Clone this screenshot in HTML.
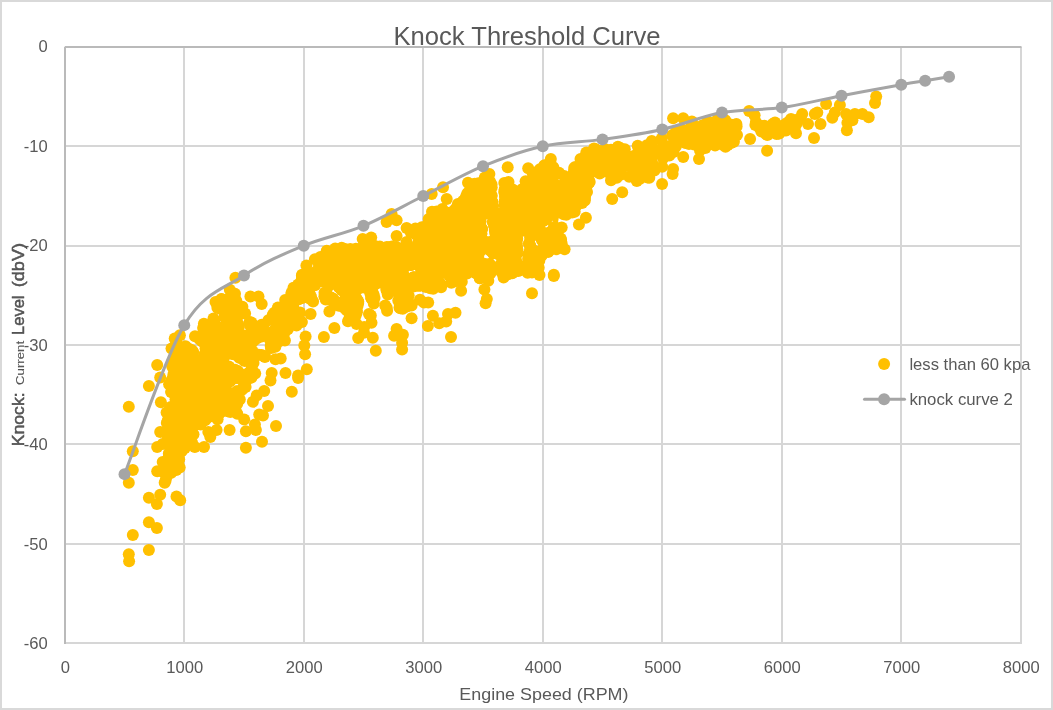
<!DOCTYPE html>
<html><head><meta charset="utf-8"><title>Knock Threshold Curve</title>
<style>
html,body{margin:0;padding:0;background:#fff;}
body{width:1053px;height:710px;overflow:hidden;font-family:"Liberation Sans",sans-serif;}
svg{display:block;}
svg{will-change:transform;}
text{font-family:"Liberation Sans",sans-serif;fill:#595959;}
</style></head><body>
<svg width="1053" height="710" viewBox="0 0 1053 710">
<rect x="0" y="0" width="1053" height="710" fill="#ffffff"/>
<rect x="1" y="1" width="1051" height="708" fill="none" stroke="#d9d9d9" stroke-width="2"/>

<g stroke="#d6d6d6" stroke-width="2" fill="none">
<line x1="184.00" y1="47.00" x2="184.00" y2="644.00"/>
<line x1="304.00" y1="47.00" x2="304.00" y2="644.00"/>
<line x1="423.00" y1="47.00" x2="423.00" y2="644.00"/>
<line x1="543.00" y1="47.00" x2="543.00" y2="644.00"/>
<line x1="662.00" y1="47.00" x2="662.00" y2="644.00"/>
<line x1="782.00" y1="47.00" x2="782.00" y2="644.00"/>
<line x1="901.00" y1="47.00" x2="901.00" y2="644.00"/>
<line x1="1021.00" y1="47.00" x2="1021.00" y2="644.00"/>
<line x1="65.00" y1="146.00" x2="1022.00" y2="146.00"/>
<line x1="65.00" y1="246.00" x2="1022.00" y2="246.00"/>
<line x1="65.00" y1="345.00" x2="1022.00" y2="345.00"/>
<line x1="65.00" y1="444.00" x2="1022.00" y2="444.00"/>
<line x1="65.00" y1="544.00" x2="1022.00" y2="544.00"/>
<line x1="65.00" y1="643.00" x2="1022.00" y2="643.00"/>
</g>
<g stroke="#bababa" stroke-width="2" fill="none">
<line x1="65.00" y1="46.70" x2="65.00" y2="644.00"/>
<line x1="65.00" y1="47.00" x2="1021.50" y2="47.00"/>
</g>
<g font-size="16.6px">
<text x="47.8" y="52.20" text-anchor="end">0</text>
<text x="47.8" y="151.73" text-anchor="end">-10</text>
<text x="47.8" y="251.27" text-anchor="end">-20</text>
<text x="47.8" y="350.80" text-anchor="end">-30</text>
<text x="47.8" y="450.33" text-anchor="end">-40</text>
<text x="47.8" y="549.87" text-anchor="end">-50</text>
<text x="47.8" y="649.40" text-anchor="end">-60</text>
<text x="65.30" y="673" text-anchor="middle">0</text>
<text x="184.80" y="673" text-anchor="middle">1000</text>
<text x="304.30" y="673" text-anchor="middle">2000</text>
<text x="423.80" y="673" text-anchor="middle">3000</text>
<text x="543.30" y="673" text-anchor="middle">4000</text>
<text x="662.80" y="673" text-anchor="middle">5000</text>
<text x="782.30" y="673" text-anchor="middle">6000</text>
<text x="901.80" y="673" text-anchor="middle">7000</text>
<text x="1021.30" y="673" text-anchor="middle">8000</text>
</g>
<text x="393.4" y="44.8" font-size="25.4px" textLength="267.2" lengthAdjust="spacingAndGlyphs">Knock Threshold Curve</text>
<text x="459.3" y="699.5" font-size="17.3px" textLength="169.2" lengthAdjust="spacingAndGlyphs">Engine Speed (RPM)</text>
<g transform="translate(23.9,447) rotate(-90)" fill="#454545" font-size="17px" stroke="#454545" stroke-width="0.45"><text x="0.7" y="0" fill="#454545" textLength="54" lengthAdjust="spacingAndGlyphs">Knock:</text><text x="62.1" y="0" fill="#4d4d4d" stroke-width="0.1" font-size="11.6px" textLength="44" lengthAdjust="spacingAndGlyphs">Current</text><text x="112.1" y="0" fill="#454545" textLength="39.4" lengthAdjust="spacingAndGlyphs">Level</text><text x="159.7" y="0" fill="#454545" textLength="44.4" lengthAdjust="spacingAndGlyphs">(dbV)</text></g>
<g fill="#ffc000">
<path d="M772.7,130.3 L775.7,129.6 L775.1,129.4 L774.1,129.0 L773.2,128.6 L772.3,128.1 L771.6,128.7 L770.7,129.3 L769.8,129.9 L769.7,129.9 L772.7,130.3Z M787.4,126.8 L790.3,126.5 L790.5,125.7 L790.7,125.1 L787.3,126.8 L787.4,126.8Z M171.5,442.7 L172.3,443.4 L173.0,444.2 L173.7,445.1 L174.2,446.0 L174.7,447.0 L175.1,448.0 L175.4,449.1 L175.5,450.1 L175.6,451.2 L175.5,452.3 L175.8,451.8 L176.3,450.9 L180.1,445.2 L180.8,444.3 L181.5,443.5 L182.3,442.8 L183.1,442.1 L184.1,441.6 L185.0,441.1 L186.1,440.8 L187.1,440.5 L187.5,440.4 L187.5,439.9 L187.5,438.8 L187.6,437.7 L187.8,436.6 L189.6,429.2 L190.0,428.1 L190.4,427.1 L191.0,426.1 L191.6,425.1 L192.4,424.2 L193.2,423.5 L200.8,417.2 L201.6,416.5 L202.6,416.0 L203.6,415.5 L204.6,415.1 L205.6,414.9 L206.7,414.7 L212.6,414.1 L212.6,414.0 L213.1,413.1 L213.6,412.1 L214.2,411.3 L214.9,410.5 L215.7,409.7 L216.6,409.1 L217.5,408.5 L218.4,408.0 L219.4,407.7 L220.5,407.4 L221.5,407.2 L222.6,407.1 L223.6,407.1 L231.9,407.7 L232.0,407.0 L232.1,405.9 L232.4,404.9 L232.7,403.9 L233.2,402.9 L233.8,402.0 L234.4,401.1 L235.1,400.3 L235.9,399.6 L236.3,399.3 L235.6,398.0 L235.1,397.0 L234.8,395.9 L234.6,394.9 L234.4,393.8 L234.4,392.7 L234.5,391.6 L234.7,390.5 L235.0,389.5 L235.4,388.5 L235.9,387.5 L236.5,386.6 L237.2,385.7 L237.4,385.6 L236.9,385.5 L236.4,385.6 L235.8,385.6 L235.2,385.8 L234.7,386.0 L234.2,386.2 L233.7,386.5 L233.3,386.9 L232.8,387.2 L232.4,387.7 L232.3,387.8 L232.3,387.8 L232.3,387.9 L232.3,387.9 L232.3,387.9 L232.2,387.9 L232.2,387.9 L232.2,387.9 L232.2,387.9 L232.2,387.9 L232.1,387.9 L232.1,387.9 L232.1,387.9 L232.1,387.9 L232.1,387.9 L232.1,387.9 L232.0,387.9 L232.0,387.9 L232.0,387.8 L232.0,387.8 L231.9,387.7 L231.9,387.7 L231.8,387.5 L231.8,387.5 L231.7,387.3 L231.7,387.3 L231.6,387.2 L231.6,387.1 L231.6,387.0 L231.6,387.0 L231.6,386.9 L231.6,386.9 L231.6,386.9 L231.6,386.9 L231.6,386.9 L231.6,386.9 L231.6,386.8 L231.6,386.8 L231.6,386.8 L231.7,386.8 L231.7,386.8 L231.7,386.8 L231.7,386.8 L231.7,386.7 L231.7,386.7 L232.3,386.6 L232.8,386.3 L233.3,386.0 L233.7,385.7 L234.2,385.3 L234.5,384.9 L234.9,384.4 L235.2,383.9 L235.3,383.7 L235.3,383.7 L235.3,383.6 L235.3,383.6 L235.3,383.6 L235.4,383.6 L235.4,383.6 L235.4,383.6 L235.4,383.6 L235.4,383.6 L235.4,383.6 L235.5,383.6 L235.5,383.6 L235.5,383.6 L235.5,383.6 L236.0,383.7 L236.6,383.8 L237.2,383.8 L237.7,383.8 L238.3,383.7 L238.3,383.7 L238.3,383.7 L238.3,383.7 L238.4,383.7 L238.4,383.7 L238.4,383.7 L238.4,383.7 L238.4,383.7 L238.5,383.7 L238.5,383.7 L238.5,383.7 L238.5,383.7 L238.5,383.8 L238.5,383.8 L238.5,383.8 L238.5,383.8 L238.5,383.8 L238.5,383.9 L238.5,383.9 L238.5,383.9 L238.5,383.9 L238.5,383.9 L238.5,383.9 L238.5,384.0 L238.5,384.0 L238.5,384.0 L238.2,384.4 L238.0,384.8 L237.9,385.1 L238.0,384.9 L238.8,384.2 L242.5,381.5 L243.3,380.9 L244.2,380.4 L245.1,380.0 L246.7,378.5 L247.4,377.9 L247.4,377.0 L247.5,376.0 L247.8,374.9 L247.9,374.5 L247.7,374.6 L246.6,374.8 L245.6,375.0 L240.3,375.4 L239.2,375.5 L238.2,375.4 L237.1,375.2 L236.1,374.9 L235.1,374.6 L234.1,374.1 L233.2,373.5 L232.3,372.9 L231.6,372.2 L230.8,371.4 L230.2,370.5 L229.7,369.6 L229.2,368.6 L228.9,367.6 L228.6,366.6 L228.4,365.5 L228.4,364.4 L228.5,363.4 L228.6,362.3 L228.9,361.3 L229.2,360.2 L229.7,359.3 L230.2,358.4 L231.2,356.9 L231.9,356.0 L232.6,355.3 L233.3,354.5 L234.1,353.9 L235.0,353.4 L236.0,352.9 L236.9,352.5 L237.9,352.2 L238.9,352.1 L240.0,352.0 L241.0,352.0 L242.0,352.1 L243.1,352.3 L247.3,353.4 L248.3,353.7 L249.3,354.1 L250.3,354.6 L251.2,355.2 L252.0,355.8 L252.7,356.6 L253.2,357.2 L253.4,357.0 L254.7,350.8 L255.0,349.7 L255.3,348.6 L255.8,347.6 L256.4,346.7 L257.1,345.8 L257.9,344.9 L258.8,344.2 L259.7,343.6 L260.7,343.0 L261.7,342.6 L262.8,342.3 L272.8,339.8 L274.2,339.5 L275.5,339.4 L280.0,339.4 L279.6,336.7 L279.5,335.6 L279.6,334.5 L279.7,333.4 L280.0,332.4 L280.3,331.3 L280.8,330.3 L281.3,329.4 L282.0,328.5 L282.7,327.6 L283.6,326.9 L284.4,326.2 L290.5,322.2 L290.4,322.0 L290.0,321.0 L289.8,320.0 L289.6,318.9 L289.6,317.8 L289.6,305.3 L289.6,304.2 L289.8,303.2 L290.0,302.1 L290.1,302.0 L287.2,306.4 L286.5,307.3 L285.8,308.1 L285.0,308.8 L284.1,309.4 L278.6,313.1 L272.4,323.5 L271.8,324.4 L271.0,325.3 L270.2,326.1 L269.3,326.8 L268.4,327.4 L267.4,327.9 L266.3,328.3 L265.2,328.6 L264.1,328.8 L263.0,328.8 L250.4,328.8 L249.3,328.8 L248.2,328.6 L247.1,328.3 L246.1,328.0 L245.1,327.5 L244.9,327.3 L244.9,327.3 L244.9,327.3 L245.1,327.6 L245.1,327.7 L245.1,327.7 L245.1,327.7 L245.1,327.7 L245.1,327.8 L245.1,327.8 L245.3,328.3 L245.6,328.8 L245.8,329.3 L245.8,329.3 L245.9,329.3 L245.9,329.3 L245.9,329.3 L245.9,329.4 L245.9,329.4 L245.9,329.4 L245.9,329.4 L245.8,329.4 L245.8,329.5 L245.8,329.5 L245.8,329.5 L245.8,329.5 L245.8,329.5 L245.8,329.5 L245.8,329.5 L245.7,329.5 L245.7,329.6 L245.7,329.6 L245.5,329.6 L245.5,329.6 L245.3,329.7 L245.3,329.7 L245.1,329.7 L245.1,329.7 L244.9,329.7 L244.9,329.7 L244.7,329.7 L244.7,329.7 L244.5,329.7 L244.5,329.6 L244.3,329.6 L244.3,329.6 L244.2,329.5 L244.2,329.5 L244.1,329.5 L244.1,329.5 L244.1,329.5 L244.1,329.5 L244.1,329.5 L244.1,329.5 L244.1,329.4 L244.1,329.4 L244.0,329.4 L244.0,329.4 L244.0,329.4 L244.0,329.3 L244.0,329.3 L244.0,329.3 L244.1,329.3 L244.1,329.3 L244.1,329.2 L244.3,328.6 L244.4,328.1 L244.5,327.5 L244.5,327.4 L244.5,327.4 L244.5,327.4 L244.5,327.4 L244.5,327.4 L244.5,327.3 L244.6,327.3 L244.6,327.3 L244.6,327.3 L244.6,327.3 L244.6,327.3 L244.6,327.3 L244.7,327.3 L244.7,327.2 L244.7,327.2 L244.7,327.2 L244.7,327.2 L244.7,327.2 L244.8,327.2 L244.2,326.9 L243.3,326.2 L242.5,325.4 L241.8,324.6 L241.1,323.7 L240.6,322.7 L240.1,321.7 L239.8,320.7 L239.6,319.6 L239.4,318.5 L239.4,317.4 L239.5,316.3 L239.8,315.2 L240.5,312.2 L236.3,309.1 L235.4,308.3 L234.6,307.5 L233.9,306.6 L233.3,305.6 L232.8,304.5 L230.4,298.9 L230.1,299.0 L224.6,302.4 L220.8,314.8 L220.5,315.8 L220.0,316.7 L219.5,317.6 L218.9,318.5 L218.2,319.3 L217.4,320.0 L216.6,320.6 L215.7,321.2 L214.8,321.6 L213.8,322.0 L210.4,323.1 L206.5,330.3 L207.5,344.6 L207.5,345.7 L207.4,346.7 L207.3,347.8 L207.0,348.8 L206.6,349.8 L206.2,350.7 L205.6,351.6 L205.0,352.5 L204.3,353.2 L203.5,353.9 L202.6,354.6 L198.9,357.1 L198.0,357.6 L197.0,358.1 L196.0,358.4 L195.0,358.7 L193.9,358.9 L192.9,358.9 L191.8,358.9 L190.8,358.7 L189.8,358.5 L188.8,358.2 L187.8,357.7 L186.9,357.2 L186.0,356.6 L185.2,355.9 L184.5,355.2 L183.8,354.3 L183.3,353.4 L182.8,352.5 L182.4,351.5 L182.1,350.5 L181.9,349.5 L180.7,341.4 L179.9,342.0 L177.4,351.9 L176.7,378.3 L176.6,379.3 L176.4,380.3 L176.2,381.3 L174.0,388.4 L178.1,397.1 L178.5,398.1 L178.9,399.1 L179.1,400.2 L179.2,401.3 L179.2,402.3 L179.1,403.4 L178.9,404.5 L178.5,405.5 L178.1,406.6 L177.6,407.5 L177.0,408.4 L171.5,415.7 L171.3,421.3 L171.7,422.3 L172.0,423.3 L172.2,424.3 L172.3,425.4 L172.3,426.4 L172.2,427.5 L172.1,428.5 L171.8,429.5 L171.7,429.8 L172.2,430.6 L172.7,431.5 L173.1,432.6 L173.4,433.6 L173.6,434.7 L173.7,435.8 L173.6,436.9 L173.5,438.0 L173.3,439.1 L172.9,440.1 L172.5,441.1 L171.9,442.1 L171.5,442.7 L171.5,442.7Z M220.3,321.3 L220.2,320.9 L220.2,320.9 L220.2,320.9 L220.2,320.9 L220.2,320.9 L220.2,320.8 L220.2,320.8 L220.2,320.8 L220.2,320.8 L220.2,320.8 L220.3,320.8 L220.3,320.7 L220.3,320.7 L220.3,320.7 L220.3,320.7 L220.3,320.7 L220.4,320.7 L220.4,320.7 L220.4,320.7 L220.4,320.7 L220.4,320.7 L220.5,320.7 L220.5,320.7 L220.5,320.7 L220.5,320.7 L220.5,320.7 L220.5,320.7 L220.6,320.8 L220.6,320.8 L220.6,320.8 L220.9,321.2 L221.1,321.6 L221.1,321.6 L221.2,321.6 L221.2,321.7 L221.2,321.7 L221.2,321.7 L221.2,321.7 L221.2,321.7 L221.2,321.8 L221.2,321.8 L221.2,321.8 L221.1,321.8 L221.1,321.8 L221.1,321.9 L221.1,321.9 L221.1,321.9 L221.1,321.9 L221.0,321.9 L221.0,321.9 L220.9,322.0 L220.9,322.0 L220.7,322.1 L220.7,322.1 L220.7,322.1 L220.6,322.1 L220.6,322.1 L220.6,322.1 L220.6,322.1 L220.6,322.1 L220.5,322.1 L220.5,322.1 L220.5,322.1 L220.5,322.1 L220.5,322.1 L220.5,322.1 L220.4,322.1 L220.4,322.0 L220.4,322.0 L220.4,322.0 L220.4,322.0 L220.4,322.0 L220.4,322.0 L220.4,321.9 L220.4,321.8 L220.3,321.3Z M293.6,296.8 L294.5,296.2 L295.4,295.6 L296.4,295.1 L297.4,294.8 L298.4,294.5 L299.5,294.4 L300.6,294.3 L307.2,294.3 L309.0,291.7 L309.6,290.8 L310.3,290.0 L311.1,289.3 L312.0,288.6 L312.9,288.1 L313.9,287.6 L314.9,287.3 L316.0,287.0 L317.0,286.8 L318.1,286.8 L319.2,286.8 L320.3,287.0 L321.3,287.3 L322.3,287.6 L323.3,288.1 L324.2,288.6 L325.1,289.3 L325.9,290.0 L332.2,296.3 L340.6,300.5 L341.6,301.0 L342.5,301.7 L348.8,306.7 L349.7,307.5 L350.5,308.4 L351.2,309.4 L351.8,310.4 L353.0,312.9 L353.0,312.7 L353.1,311.6 L353.2,310.5 L353.5,309.4 L353.9,308.4 L354.4,307.4 L354.9,306.5 L355.6,305.6 L356.4,304.8 L357.2,304.1 L358.1,303.4 L359.1,302.9 L360.1,302.4 L361.1,302.1 L362.2,301.9 L364.0,301.6 L364.0,301.4 L364.0,300.9 L363.9,300.3 L363.8,299.7 L363.6,299.2 L363.3,298.7 L363.1,298.2 L362.7,297.8 L362.3,297.3 L362.3,297.3 L362.3,297.3 L362.3,297.3 L362.3,297.3 L362.3,297.2 L362.3,297.2 L362.1,296.9 L361.9,296.4 L361.6,295.9 L361.3,295.4 L360.9,295.0 L360.8,294.9 L360.8,294.9 L360.7,294.9 L360.7,294.9 L360.7,294.9 L360.7,294.8 L360.7,294.8 L360.7,294.8 L360.7,294.8 L360.7,294.8 L360.7,294.7 L360.7,294.7 L360.7,294.7 L360.7,294.7 L360.7,294.7 L360.8,294.5 L360.8,294.5 L361.0,294.3 L361.0,294.3 L361.1,294.1 L361.1,294.1 L361.3,293.9 L361.3,293.9 L361.5,293.8 L361.5,293.8 L361.7,293.6 L361.7,293.6 L362.0,293.5 L362.0,293.5 L362.2,293.4 L362.2,293.4 L362.4,293.4 L362.4,293.3 L362.7,293.3 L362.7,293.3 L362.9,293.3 L363.0,293.3 L363.2,293.3 L363.2,293.3 L363.4,293.3 L363.5,293.3 L363.7,293.4 L363.7,293.4 L363.9,293.5 L363.9,293.5 L364.2,293.6 L364.2,293.6 L364.4,293.7 L364.4,293.7 L364.6,293.8 L364.6,293.8 L364.6,293.9 L364.7,293.9 L364.7,293.9 L364.7,293.9 L364.7,293.9 L364.7,294.0 L364.7,294.0 L364.7,294.0 L364.7,294.0 L364.7,294.3 L364.8,294.9 L365.0,295.4 L365.1,296.0 L365.4,296.5 L365.6,296.9 L365.6,296.9 L365.6,296.9 L365.6,296.9 L365.6,297.0 L365.6,297.0 L365.6,297.0 L365.6,297.0 L365.6,297.5 L365.5,298.1 L365.6,298.7 L365.7,299.2 L365.8,299.8 L366.0,300.3 L366.2,300.8 L366.4,301.2 L373.8,299.9 L378.8,294.9 L379.4,294.4 L379.4,294.2 L379.3,293.7 L379.1,293.1 L379.0,292.6 L378.7,292.1 L378.4,291.6 L378.1,291.2 L378.1,291.2 L378.1,291.2 L378.1,291.1 L378.1,291.1 L378.0,290.9 L377.8,290.4 L377.8,290.2 L377.8,290.2 L377.8,290.2 L377.7,290.2 L377.7,290.1 L377.7,290.1 L377.7,290.1 L377.7,290.1 L377.8,290.1 L377.8,290.0 L377.8,290.0 L377.8,290.0 L377.9,289.8 L377.9,289.7 L378.1,289.6 L378.1,289.5 L378.2,289.4 L378.2,289.3 L378.4,289.2 L378.4,289.2 L378.6,289.0 L378.6,289.0 L378.8,288.9 L378.8,288.9 L379.0,288.8 L379.1,288.8 L379.3,288.7 L379.3,288.7 L379.5,288.6 L379.5,288.6 L379.8,288.6 L379.8,288.6 L380.0,288.5 L380.0,288.5 L380.3,288.5 L380.3,288.5 L380.5,288.6 L380.5,288.6 L380.6,288.6 L380.6,288.6 L380.6,288.6 L380.7,288.6 L380.7,288.6 L380.7,288.6 L380.7,288.6 L380.7,288.7 L380.7,288.7 L380.7,288.7 L380.7,288.7 L380.8,288.7 L380.8,288.8 L380.8,288.8 L380.8,288.8 L380.8,288.8 L380.7,289.2 L380.7,289.7 L380.7,290.3 L380.8,290.9 L380.9,291.4 L381.1,292.0 L381.4,292.5 L381.6,292.9 L382.5,292.5 L383.5,292.1 L384.6,291.9 L385.7,291.7 L386.8,291.7 L387.9,291.8 L389.0,291.9 L390.0,292.2 L397.6,294.7 L398.6,295.2 L399.6,295.7 L400.5,296.3 L401.4,296.9 L402.2,297.7 L402.9,298.6 L403.5,299.5 L404.0,300.4 L404.4,301.5 L404.8,302.5 L405.3,304.9 L407.6,298.8 L408.0,297.8 L408.6,296.8 L409.2,295.9 L410.0,295.1 L410.8,294.3 L411.6,293.6 L412.6,293.1 L413.6,292.6 L414.6,292.2 L415.7,291.9 L416.8,291.7 L417.9,291.7 L421.1,291.7 L421.2,291.6 L421.2,291.6 L421.4,291.4 L421.4,291.4 L421.6,291.3 L421.6,291.3 L421.8,291.2 L421.9,291.2 L421.9,291.2 L421.9,291.2 L421.9,291.2 L422.0,291.2 L422.0,291.2 L422.0,291.2 L422.0,291.2 L422.0,291.2 L422.1,291.2 L422.1,291.2 L422.1,291.2 L422.1,291.2 L422.3,291.4 L422.7,291.7 L429.1,291.7 L433.4,286.7 L434.0,286.1 L434.7,285.5 L442.2,279.2 L443.0,278.6 L443.9,278.0 L444.9,277.5 L445.9,277.2 L446.9,276.9 L447.9,276.7 L449.0,276.6 L450.0,276.7 L451.1,276.8 L459.1,278.1 L460.1,276.5 L460.8,275.6 L461.5,274.8 L465.0,271.3 L465.8,270.6 L466.7,270.0 L467.6,269.4 L468.6,269.0 L469.6,268.6 L470.6,268.3 L471.6,268.2 L472.7,268.1 L473.8,268.2 L474.8,268.3 L475.9,268.6 L476.9,268.9 L477.9,269.4 L478.8,269.9 L479.6,270.5 L480.5,271.2 L481.2,272.0 L481.8,272.8 L482.4,273.7 L482.9,274.7 L483.2,275.5 L483.3,275.0 L483.6,273.9 L484.1,273.0 L484.6,272.0 L485.3,271.1 L486.0,270.3 L486.8,269.6 L487.7,268.9 L488.6,268.3 L489.6,267.9 L490.6,267.5 L491.7,267.2 L492.8,267.1 L493.9,267.0 L499.0,267.0 L500.1,267.1 L501.2,267.2 L502.2,267.5 L503.3,267.8 L504.2,268.3 L505.2,268.9 L506.0,269.5 L506.7,270.1 L509.0,268.7 L509.9,268.2 L510.8,267.8 L511.8,267.4 L512.8,267.2 L513.8,267.1 L514.9,267.0 L532.8,267.0 L533.2,266.5 L533.8,265.7 L534.2,265.4 L534.3,264.7 L534.5,263.8 L534.8,262.8 L535.3,261.9 L536.5,259.4 L537.1,256.7 L537.3,255.7 L537.7,254.7 L538.1,253.8 L538.6,252.9 L539.2,252.0 L539.9,251.2 L540.7,250.5 L541.5,249.9 L542.4,249.3 L549.1,245.5 L550.0,245.0 L550.9,244.7 L551.9,244.4 L555.9,243.4 L557.0,243.1 L557.4,243.1 L556.3,237.5 L556.1,236.6 L556.1,235.6 L556.1,234.6 L556.2,233.6 L558.7,218.5 L559.0,217.5 L559.3,216.4 L559.7,215.5 L560.3,214.5 L560.9,213.6 L561.6,212.8 L562.4,212.0 L563.2,211.4 L564.1,210.8 L565.1,210.3 L566.1,209.9 L570.0,208.6 L573.0,204.2 L573.6,203.3 L574.3,202.5 L575.1,201.8 L576.0,201.2 L581.1,197.8 L583.7,192.7 L583.7,185.2 L583.7,184.1 L583.9,183.0 L584.2,181.9 L584.6,180.8 L585.1,179.8 L585.7,178.9 L586.4,178.0 L587.2,177.2 L588.1,176.4 L598.1,168.9 L599.0,168.3 L599.9,167.8 L600.9,167.4 L602.0,167.1 L603.1,166.8 L604.1,166.7 L605.2,166.7 L606.3,166.8 L607.4,167.1 L608.4,167.4 L609.4,167.8 L610.4,168.3 L611.3,168.9 L617.4,173.5 L626.0,171.9 L627.0,171.8 L628.1,171.7 L629.2,171.8 L630.2,172.0 L631.3,172.2 L632.1,172.5 L638.5,174.1 L645.2,173.0 L645.4,172.5 L645.8,171.5 L646.4,170.5 L647.1,169.6 L647.9,168.7 L648.7,168.0 L649.7,167.3 L650.7,166.7 L651.7,166.3 L656.3,164.5 L657.4,160.1 L657.8,159.1 L658.2,158.0 L658.7,157.1 L659.3,156.2 L660.0,155.3 L660.8,154.5 L661.7,153.9 L662.6,153.3 L663.6,152.8 L664.6,152.4 L666.9,151.6 L667.7,149.3 L668.1,148.3 L668.6,147.3 L669.2,146.3 L669.9,145.5 L670.7,144.7 L671.5,144.0 L672.4,143.4 L673.4,142.8 L674.4,142.4 L675.5,142.1 L685.5,139.6 L686.6,139.4 L687.7,139.3 L688.9,139.3 L690.0,139.4 L691.1,139.7 L692.2,140.0 L693.2,140.5 L694.2,141.1 L695.1,141.7 L695.9,142.5 L697.7,144.3 L700.6,144.3 L708.3,140.4 L709.3,140.0 L710.3,139.7 L711.3,139.4 L712.3,139.3 L713.3,139.3 L714.4,139.3 L715.4,139.5 L716.4,139.7 L725.4,142.4 L727.0,141.8 L727.9,139.3 L728.2,138.3 L728.7,137.4 L729.2,136.5 L729.8,135.7 L730.5,135.0 L733.9,131.6 L732.9,126.6 L731.9,124.9 L719.6,124.9 L706.1,128.3 L688.9,133.2 L674.3,138.1 L664.5,141.8 L655.6,145.1 L649.1,149.4 L648.3,149.9 L647.3,150.4 L646.4,150.7 L645.4,151.0 L644.3,151.2 L643.3,151.2 L642.3,151.2 L641.2,151.1 L633.3,149.8 L632.9,150.0 L631.8,150.4 L630.8,150.8 L629.7,151.0 L628.6,151.1 L605.4,152.3 L594.6,153.2 L589.9,157.9 L580.4,167.4 L573.4,176.8 L572.7,177.7 L571.9,178.4 L571.0,179.1 L570.1,179.7 L569.1,180.2 L568.1,180.6 L567.0,180.9 L565.9,181.1 L564.8,181.2 L563.7,181.2 L562.6,181.0 L561.5,180.8 L560.5,180.4 L559.5,179.9 L558.5,179.4 L557.6,178.7 L556.8,178.0 L551.8,173.0 L551.0,172.1 L550.3,171.1 L549.7,170.1 L548.8,168.2 L541.2,173.9 L530.7,182.3 L526.8,190.2 L526.3,191.1 L525.6,192.0 L525.0,192.8 L524.2,193.5 L523.4,194.2 L522.5,194.7 L521.6,195.2 L520.6,195.6 L519.6,195.9 L518.5,196.1 L517.5,196.2 L516.4,196.2 L515.4,196.1 L514.3,195.9 L513.3,195.6 L512.3,195.2 L511.4,194.7 L510.5,194.2 L509.7,193.5 L508.9,192.8 L508.8,192.6 L508.6,192.8 L507.8,193.6 L506.9,194.3 L506.0,194.9 L505.0,195.4 L503.9,195.7 L502.8,196.0 L501.7,196.2 L500.6,196.2 L499.2,196.2 L499.2,196.5 L499.3,197.1 L499.5,197.7 L499.7,198.2 L499.7,198.2 L499.7,198.2 L499.7,198.2 L499.7,198.3 L499.7,198.3 L499.7,198.3 L499.7,198.3 L499.7,198.3 L499.7,198.4 L499.7,198.4 L499.7,198.4 L499.6,198.5 L499.4,199.0 L499.2,199.5 L499.1,200.1 L499.0,200.6 L498.9,201.2 L499.0,201.8 L499.1,202.3 L499.1,202.3 L499.1,202.3 L499.1,202.4 L499.1,202.4 L499.1,202.4 L499.1,202.4 L499.1,202.4 L498.9,202.9 L498.8,203.4 L498.7,204.0 L498.6,204.6 L498.6,204.6 L498.6,204.6 L498.6,204.6 L498.6,204.6 L498.6,204.7 L498.6,204.7 L498.6,204.7 L498.6,204.7 L498.6,204.7 L498.5,204.7 L498.5,204.7 L498.5,204.7 L498.5,204.7 L498.5,204.8 L498.5,204.8 L498.4,204.8 L498.4,204.8 L498.4,204.7 L498.4,204.7 L498.4,204.7 L498.3,204.7 L498.3,204.7 L498.3,204.7 L498.3,204.7 L498.3,204.7 L498.3,204.7 L498.3,204.6 L498.3,204.6 L498.2,204.5 L498.0,204.0 L498.0,203.9 L497.9,203.9 L497.9,203.9 L497.9,203.9 L497.9,203.9 L497.9,203.8 L497.9,203.8 L498.0,203.8 L498.0,203.7 L498.1,203.2 L498.2,202.6 L498.2,202.1 L498.2,201.5 L498.1,200.9 L498.0,200.4 L497.8,199.8 L497.5,199.3 L497.2,198.8 L496.9,198.4 L496.9,198.4 L496.9,198.3 L496.9,198.3 L496.9,198.3 L496.8,198.3 L496.8,198.3 L496.8,198.2 L496.8,198.2 L496.8,198.2 L496.8,198.2 L496.8,198.2 L496.8,198.2 L496.9,198.1 L497.0,197.7 L497.2,197.2 L497.4,196.6 L497.4,196.2 L495.6,196.2 L494.6,196.2 L493.5,196.0 L492.5,195.8 L491.5,195.4 L490.5,195.0 L489.6,194.5 L488.8,193.8 L488.0,193.1 L487.2,192.4 L486.6,191.5 L486.0,190.6 L485.6,189.7 L485.2,188.7 L484.9,187.7 L484.7,186.6 L484.4,184.5 L480.0,187.2 L479.2,187.6 L472.9,190.7 L469.5,199.4 L469.1,200.2 L468.6,201.1 L468.1,201.8 L467.5,202.6 L457.5,213.9 L456.7,214.6 L455.8,215.4 L454.9,216.0 L454.0,216.5 L452.9,216.9 L451.9,217.2 L450.8,217.4 L449.7,217.5 L448.6,217.5 L447.5,217.4 L446.4,217.2 L445.4,216.9 L438.6,214.3 L437.3,214.6 L434.4,221.9 L433.9,222.9 L433.4,223.9 L432.7,224.8 L432.0,225.6 L431.2,226.3 L430.3,227.0 L422.8,232.0 L421.8,232.6 L420.9,233.0 L419.8,233.4 L418.8,233.6 L417.7,233.8 L416.6,233.8 L415.1,233.8 L415.0,234.2 L414.9,235.2 L414.6,236.1 L414.3,237.0 L411.5,244.1 L411.0,245.1 L410.5,246.0 L409.8,246.9 L409.1,247.7 L408.3,248.5 L407.4,249.1 L406.5,249.7 L405.5,250.1 L404.5,250.5 L403.4,250.8 L402.4,250.9 L401.3,251.0 L377.8,251.0 L376.7,250.9 L375.5,250.7 L374.4,250.4 L367.4,248.1 L360.3,251.4 L359.3,251.8 L358.4,252.0 L357.4,252.2 L356.4,252.3 L336.9,253.6 L325.5,255.5 L317.9,262.1 L307.9,271.1 L305.0,282.9 L304.7,283.8 L304.3,284.8 L303.9,285.6 L303.3,286.5 L302.7,287.3 L302.1,288.0 L294.1,296.0 L293.5,296.9 L293.6,296.8Z M552.3,220.7 L552.3,220.7 L552.5,220.7 L552.5,220.7 L552.7,220.8 L552.7,220.8 L552.9,220.9 L552.9,220.9 L553.0,221.0 L553.1,221.0 L553.2,221.1 L553.2,221.1 L553.3,221.2 L553.3,221.2 L553.3,221.2 L553.3,221.2 L553.3,221.2 L553.3,221.2 L553.3,221.3 L553.3,221.3 L553.3,221.3 L553.3,221.3 L553.3,221.3 L553.3,221.4 L553.3,221.4 L553.3,221.4 L553.3,221.4 L553.3,221.4 L553.3,221.4 L553.3,221.5 L553.3,221.5 L553.2,221.5 L553.2,221.5 L553.2,221.5 L553.2,221.5 L553.1,221.5 L552.6,221.7 L552.1,222.0 L551.6,222.2 L551.3,222.4 L551.3,222.4 L551.3,222.5 L551.3,222.5 L551.2,222.5 L551.2,222.5 L551.2,222.5 L551.2,222.5 L551.2,222.5 L551.1,222.5 L551.1,222.5 L551.1,222.5 L551.1,222.4 L551.1,222.4 L551.1,222.4 L551.0,222.4 L551.0,222.4 L551.0,222.4 L551.0,222.4 L551.0,222.3 L551.0,222.3 L551.0,222.3 L551.0,222.3 L551.0,222.3 L551.0,222.2 L551.0,222.2 L551.0,222.2 L551.0,222.2 L551.2,221.8 L551.2,221.7 L551.2,221.7 L551.2,221.7 L551.2,221.7 L551.3,221.7 L551.3,221.7 L551.5,221.4 L551.9,221.0 L552.1,220.8 L552.1,220.8 L552.1,220.7 L552.1,220.7 L552.2,220.7 L552.2,220.7 L552.2,220.7 L552.2,220.7 L552.2,220.7 L552.2,220.7 L552.3,220.7 L552.3,220.7 L552.3,220.7Z M546.1,227.6 L546.1,227.6 L545.9,227.5 L545.9,227.5 L545.8,227.4 L545.8,227.4 L545.7,227.2 L545.6,227.2 L545.5,227.1 L545.5,227.0 L545.4,226.9 L545.4,226.9 L545.3,226.7 L545.3,226.7 L545.3,226.5 L545.3,226.5 L545.2,226.5 L545.2,226.4 L545.2,226.4 L545.2,226.4 L545.2,226.4 L545.2,226.4 L545.3,226.3 L545.3,226.3 L545.3,226.3 L545.3,226.3 L545.3,226.3 L545.3,226.3 L545.3,226.2 L545.3,226.2 L545.4,226.2 L545.5,226.1 L546.0,225.8 L546.5,225.5 L546.7,225.3 L546.7,225.3 L546.7,225.3 L546.8,225.3 L546.8,225.3 L546.8,225.3 L546.8,225.3 L547.0,225.2 L547.5,225.1 L548.1,224.9 L548.5,224.7 L548.5,224.7 L548.5,224.7 L548.6,224.7 L548.6,224.7 L548.6,224.7 L548.6,224.7 L548.6,224.7 L548.7,224.7 L548.7,224.7 L548.7,224.7 L548.7,224.7 L548.7,224.7 L548.7,224.7 L548.8,224.8 L548.8,224.8 L548.8,224.8 L548.8,224.8 L548.8,224.8 L548.8,224.8 L548.8,224.9 L548.8,224.9 L548.8,224.9 L548.8,224.9 L548.8,224.9 L548.8,225.0 L548.8,225.0 L548.6,225.3 L548.3,225.8 L548.1,226.4 L548.1,226.6 L548.1,226.7 L548.0,226.7 L548.0,226.7 L548.0,226.7 L548.0,226.7 L548.0,226.7 L548.0,226.7 L548.0,226.8 L548.0,226.8 L547.7,226.9 L547.2,227.2 L546.7,227.5 L546.5,227.7 L546.5,227.7 L546.5,227.7 L546.5,227.7 L546.5,227.7 L546.5,227.7 L546.4,227.8 L546.4,227.8 L546.4,227.8 L546.4,227.8 L546.4,227.8 L546.3,227.7 L546.3,227.7 L546.3,227.7 L546.2,227.7 L546.1,227.6Z M535.4,240.2 L535.4,240.2 L535.4,240.2 L535.4,240.2 L535.5,240.2 L535.5,240.1 L535.5,240.1 L535.5,240.1 L535.5,240.1 L535.5,240.1 L535.6,240.1 L535.6,240.1 L535.6,240.1 L535.6,240.1 L535.6,240.1 L535.7,240.1 L535.7,240.1 L535.7,240.2 L535.7,240.2 L535.7,240.2 L535.7,240.2 L535.7,240.2 L536.0,240.6 L536.3,241.1 L536.3,241.1 L536.3,241.1 L536.4,241.1 L536.4,241.1 L536.4,241.1 L536.4,241.2 L536.4,241.2 L536.4,241.5 L536.6,242.0 L536.8,242.6 L537.0,243.1 L537.3,243.6 L537.6,244.0 L538.0,244.4 L538.3,244.7 L538.3,244.7 L538.3,244.7 L538.4,244.8 L538.4,244.8 L538.4,244.8 L538.4,244.8 L538.4,244.8 L538.4,244.9 L538.4,244.9 L538.4,244.9 L538.4,244.9 L538.4,244.9 L538.4,244.9 L538.3,245.0 L538.3,245.0 L538.3,245.1 L538.2,245.2 L538.2,245.2 L538.1,245.3 L538.0,245.3 L537.9,245.4 L537.9,245.5 L537.8,245.6 L537.7,245.6 L537.6,245.6 L537.6,245.7 L537.4,245.7 L537.4,245.7 L537.3,245.8 L537.2,245.8 L537.1,245.8 L537.1,245.8 L536.9,245.8 L536.9,245.8 L536.7,245.8 L536.7,245.8 L536.7,245.8 L536.7,245.8 L536.6,245.8 L536.6,245.8 L536.6,245.8 L536.6,245.8 L536.6,245.8 L536.6,245.8 L536.6,245.8 L536.5,245.7 L536.5,245.7 L536.5,245.7 L536.5,245.5 L536.2,245.0 L535.9,244.5 L535.7,244.3 L535.7,244.2 L535.7,244.2 L535.7,244.2 L535.7,244.2 L535.6,243.6 L535.4,243.1 L535.1,242.6 L534.8,242.1 L534.5,241.7 L534.5,241.7 L534.5,241.6 L534.5,241.6 L534.5,241.6 L534.5,241.6 L534.5,241.6 L534.5,241.6 L534.5,241.5 L534.5,241.5 L534.5,241.5 L534.5,241.5 L534.5,241.5 L534.5,241.4 L534.5,241.4 L534.8,241.2 L535.1,240.7 L535.4,240.2 L535.4,240.2Z M524.5,247.3 L524.6,247.4 L524.6,247.4 L524.6,247.4 L524.6,247.4 L524.6,247.4 L524.6,247.5 L524.8,247.9 L524.8,247.9 L524.8,247.9 L524.8,247.9 L524.8,248.0 L524.8,248.0 L524.8,248.0 L524.8,248.0 L524.8,248.0 L524.8,248.1 L524.6,248.4 L524.4,249.0 L524.3,249.5 L524.2,250.1 L524.2,250.4 L524.2,250.4 L524.2,250.4 L524.2,250.4 L524.2,250.4 L524.2,250.5 L524.2,250.5 L524.2,250.5 L524.1,250.5 L524.1,250.5 L523.7,251.0 L523.4,251.4 L523.1,251.9 L522.8,252.4 L522.8,252.4 L522.8,252.5 L522.8,252.5 L522.8,252.5 L522.8,252.5 L522.8,252.5 L522.7,252.5 L522.7,252.5 L522.7,252.5 L522.7,252.5 L522.7,252.5 L522.7,252.5 L522.6,252.5 L522.6,252.5 L522.6,252.5 L522.6,252.5 L522.6,252.5 L522.5,252.5 L522.5,252.5 L522.5,252.5 L522.5,252.5 L522.5,252.4 L522.5,252.4 L522.5,252.4 L522.5,252.4 L522.4,252.2 L522.4,252.2 L522.4,252.1 L522.4,252.1 L522.4,252.1 L522.4,252.1 L522.4,252.1 L522.4,252.1 L522.4,252.0 L522.4,252.0 L522.7,251.5 L522.9,251.0 L523.0,250.4 L523.1,249.9 L523.1,249.3 L523.1,248.7 L523.0,248.2 L522.9,247.6 L522.7,247.1 L522.5,246.8 L522.5,246.7 L522.5,246.7 L522.5,246.7 L522.5,246.7 L522.5,246.7 L522.5,246.1 L522.5,245.5 L522.4,245.0 L522.3,244.5 L522.3,244.5 L522.3,244.5 L522.3,244.5 L522.3,244.5 L522.4,243.9 L522.4,243.4 L522.4,242.8 L522.3,242.2 L522.2,241.9 L522.2,241.8 L522.2,241.8 L522.2,241.8 L522.2,241.8 L522.2,241.8 L522.2,241.7 L522.2,241.7 L522.2,241.7 L522.3,241.6 L522.6,241.1 L522.8,240.5 L522.9,240.0 L523.0,239.4 L523.0,238.8 L523.0,238.3 L522.9,237.7 L522.8,237.2 L522.6,236.8 L522.6,236.8 L522.6,236.7 L522.6,236.7 L522.6,236.7 L522.6,236.7 L522.6,236.7 L522.6,236.6 L522.6,236.6 L522.6,236.6 L522.7,236.6 L522.7,236.6 L522.7,236.6 L522.7,236.5 L522.7,236.5 L522.7,236.5 L522.8,236.5 L522.8,236.5 L523.0,236.4 L523.0,236.4 L523.2,236.4 L523.2,236.4 L523.3,236.4 L523.4,236.4 L523.5,236.4 L523.5,236.4 L523.7,236.4 L523.7,236.4 L523.9,236.4 L523.9,236.4 L524.1,236.5 L524.1,236.5 L524.2,236.5 L524.3,236.6 L524.4,236.6 L524.4,236.6 L524.4,236.6 L524.4,236.7 L524.5,236.7 L524.5,236.7 L524.5,236.7 L524.5,236.7 L524.5,236.7 L524.5,236.8 L524.5,236.8 L524.5,236.8 L524.5,236.8 L524.5,236.8 L524.5,236.8 L524.5,236.9 L524.5,237.5 L524.5,238.1 L524.6,238.6 L524.7,239.2 L524.8,239.4 L524.8,239.4 L524.8,239.4 L524.8,239.4 L524.8,239.5 L524.8,239.5 L524.8,239.5 L524.8,239.5 L524.8,239.5 L524.8,239.6 L524.8,239.6 L524.8,239.6 L524.5,239.9 L524.1,240.4 L523.8,240.9 L523.6,241.4 L523.4,241.9 L523.3,242.5 L523.2,243.0 L523.2,243.6 L523.2,244.2 L523.3,244.7 L523.4,245.3 L523.6,245.8 L523.8,246.3 L524.1,246.8 L524.5,247.3Z M521.3,258.3 L521.1,258.0 L521.1,257.9 L521.1,257.9 L521.1,257.9 L521.1,257.9 L521.1,257.9 L521.1,257.8 L521.1,257.8 L521.1,257.8 L521.1,257.8 L521.1,257.8 L521.1,257.8 L521.1,257.7 L521.3,257.5 L521.7,257.1 L522.0,256.6 L522.2,256.1 L522.2,256.0 L522.2,256.0 L522.3,256.0 L522.3,256.0 L522.3,256.0 L522.3,256.0 L522.3,256.0 L522.3,255.9 L522.4,255.9 L522.4,255.9 L522.4,255.9 L522.4,255.9 L522.4,255.9 L522.4,255.9 L522.5,255.9 L522.5,256.0 L522.5,256.0 L522.5,256.0 L522.5,256.0 L522.5,256.0 L522.6,256.0 L522.6,256.0 L522.6,256.1 L522.6,256.1 L522.6,256.1 L522.7,256.3 L522.8,256.8 L522.8,256.8 L522.8,256.8 L522.8,256.8 L522.8,256.9 L522.8,256.9 L522.8,256.9 L522.8,256.9 L522.7,257.2 L522.6,257.7 L522.5,258.3 L522.5,258.9 L522.5,259.4 L522.6,260.0 L522.7,260.5 L522.7,260.5 L522.7,260.5 L522.7,260.5 L522.7,260.5 L522.7,260.5 L522.7,260.6 L522.7,260.6 L522.6,260.7 L522.5,261.1 L522.5,261.1 L522.5,261.1 L522.5,261.2 L522.5,261.2 L522.4,261.2 L522.4,261.2 L522.4,261.2 L522.4,261.2 L522.4,261.2 L522.4,261.2 L522.3,261.2 L522.3,261.2 L522.3,261.2 L522.3,261.2 L522.3,261.2 L522.2,261.2 L522.2,261.2 L522.2,261.2 L522.2,261.2 L522.2,261.2 L522.2,261.2 L522.1,261.2 L522.1,261.1 L522.0,260.9 L521.8,260.6 L521.7,260.6 L521.7,260.6 L521.7,260.5 L521.7,260.5 L521.7,260.5 L521.7,260.5 L521.7,260.0 L521.6,259.4 L521.5,258.9 L521.3,258.3Z M499.1,206.8 L499.3,207.3 L499.5,207.6 L499.5,207.6 L499.5,207.6 L499.5,207.6 L499.5,207.7 L499.5,207.7 L499.5,207.7 L499.5,207.7 L499.5,207.7 L499.5,207.8 L499.5,207.8 L499.5,207.8 L499.5,207.8 L499.5,207.8 L499.5,207.8 L499.5,207.8 L499.4,207.9 L499.4,207.9 L499.3,207.9 L499.3,208.0 L499.1,208.0 L499.1,208.0 L498.9,208.1 L498.9,208.1 L498.8,208.1 L498.7,208.1 L498.7,208.1 L498.7,208.1 L498.7,208.1 L498.7,208.1 L498.6,208.1 L498.6,208.1 L498.6,208.1 L498.6,208.1 L498.6,208.0 L498.6,208.0 L498.6,208.0 L498.5,208.0 L498.5,208.0 L498.5,208.0 L498.5,207.9 L498.5,207.9 L498.5,207.9 L498.5,207.9 L498.5,207.9 L498.5,207.8 L498.6,207.3 L498.6,206.7 L498.6,206.7 L498.7,206.7 L498.7,206.6 L498.7,206.6 L498.7,206.6 L498.7,206.6 L498.7,206.6 L498.7,206.6 L498.7,206.5 L498.7,206.5 L498.8,206.5 L498.8,206.5 L498.8,206.5 L498.8,206.5 L498.8,206.5 L498.9,206.5 L498.9,206.5 L498.9,206.5 L498.9,206.5 L498.9,206.5 L499.0,206.5 L499.0,206.5 L499.0,206.6 L499.0,206.6 L499.0,206.6 L499.0,206.6 L499.0,206.6 L499.0,206.6 L499.1,206.8Z M493.8,260.0 L493.4,259.6 L493.2,259.5 L493.2,259.5 L493.2,259.5 L493.2,259.4 L493.2,259.4 L493.2,259.4 L493.2,259.4 L493.2,259.4 L493.1,259.4 L493.1,259.3 L493.1,259.3 L493.1,259.3 L493.2,259.3 L493.2,259.3 L493.2,259.2 L493.2,259.2 L493.2,259.2 L493.2,259.2 L493.2,259.2 L493.2,259.2 L493.2,259.2 L493.3,259.1 L493.3,259.1 L493.3,259.1 L493.3,259.1 L493.3,259.1 L493.7,259.1 L494.2,259.0 L494.7,258.9 L494.7,258.9 L494.7,258.9 L494.7,258.9 L494.7,258.9 L494.8,258.9 L494.8,258.9 L494.8,258.9 L495.1,259.1 L495.6,259.2 L496.1,259.4 L496.1,259.4 L496.2,259.4 L496.2,259.4 L496.2,259.4 L496.2,259.4 L496.2,259.4 L496.2,259.5 L496.2,259.5 L496.3,259.5 L496.3,259.5 L496.3,259.5 L496.3,259.5 L496.3,259.7 L496.3,259.7 L496.3,260.0 L496.3,260.0 L496.3,260.2 L496.3,260.2 L496.2,260.5 L496.2,260.5 L496.2,260.7 L496.2,260.7 L496.1,260.9 L496.1,261.0 L496.0,261.2 L495.9,261.2 L495.8,261.4 L495.8,261.4 L495.7,261.6 L495.6,261.6 L495.5,261.8 L495.5,261.8 L495.4,261.9 L495.3,261.9 L495.3,261.9 L495.3,261.9 L495.3,261.9 L495.3,261.9 L495.3,261.9 L495.2,261.9 L495.2,261.9 L495.2,261.9 L495.2,261.9 L495.2,261.9 L495.1,261.9 L495.1,261.9 L495.1,261.9 L495.1,261.9 L495.1,261.8 L495.1,261.8 L495.1,261.8 L495.0,261.8 L494.8,261.4 L494.6,260.9 L494.2,260.4 L493.8,260.0Z M489.8,235.7 L489.7,235.7 L489.6,235.8 L489.6,235.8 L489.5,235.9 L489.5,236.0 L489.3,236.1 L489.3,236.1 L489.2,236.1 L489.2,236.2 L489.0,236.2 L489.0,236.2 L488.8,236.3 L488.8,236.3 L488.6,236.3 L488.6,236.3 L488.5,236.3 L488.4,236.3 L488.3,236.4 L488.3,236.3 L488.1,236.3 L488.1,236.3 L487.9,236.3 L487.9,236.3 L487.7,236.3 L487.7,236.3 L487.6,236.2 L487.5,236.2 L487.4,236.1 L487.4,236.1 L487.2,236.0 L487.2,236.0 L487.1,235.9 L487.1,235.9 L487.0,235.8 L487.0,235.8 L486.9,235.7 L486.9,235.7 L486.9,235.7 L486.9,235.7 L486.9,235.7 L486.9,235.7 L486.9,235.6 L486.9,235.6 L486.9,235.6 L486.9,235.6 L486.9,235.6 L487.0,235.4 L487.1,234.9 L487.2,234.3 L487.2,233.8 L487.2,233.2 L487.1,232.6 L487.0,232.1 L487.0,232.1 L487.0,232.1 L487.0,232.1 L487.0,232.0 L487.0,232.0 L487.0,232.0 L487.0,232.0 L487.0,232.0 L487.2,231.6 L487.4,231.1 L487.6,230.6 L487.8,230.0 L487.8,229.5 L487.9,228.9 L487.8,228.3 L487.8,227.8 L487.6,227.2 L487.4,226.7 L487.2,226.2 L486.9,225.7 L486.5,225.2 L486.2,224.8 L485.8,224.5 L485.8,224.4 L485.7,224.4 L485.7,224.4 L485.7,224.4 L485.7,224.4 L485.7,224.4 L485.7,224.3 L485.7,224.3 L485.7,224.0 L485.7,224.0 L485.7,223.9 L485.7,223.9 L485.7,223.9 L485.7,223.9 L485.8,223.6 L486.0,223.0 L486.2,222.5 L486.3,221.9 L486.3,221.4 L486.3,220.8 L486.2,220.2 L486.1,219.9 L486.1,219.9 L486.1,219.9 L486.1,219.9 L486.1,219.8 L486.1,219.8 L486.1,219.8 L486.1,219.8 L486.1,219.8 L486.1,219.8 L486.1,219.7 L486.2,219.7 L486.2,219.7 L486.2,219.7 L486.4,219.6 L486.4,219.6 L486.5,219.5 L486.5,219.5 L486.7,219.4 L486.7,219.4 L486.9,219.4 L486.9,219.3 L487.0,219.3 L487.1,219.3 L487.2,219.3 L487.2,219.3 L487.4,219.3 L487.4,219.3 L487.5,219.3 L487.6,219.3 L487.6,219.3 L487.6,219.3 L487.6,219.3 L487.6,219.3 L487.6,219.3 L487.7,219.3 L487.7,219.4 L487.7,219.4 L487.7,219.4 L487.7,219.4 L487.7,219.4 L487.7,219.4 L487.7,219.5 L487.7,219.5 L487.7,219.5 L487.7,219.5 L487.7,219.5 L487.7,219.6 L487.7,219.6 L487.5,219.9 L487.3,220.5 L487.2,221.0 L487.1,221.6 L487.1,222.1 L487.1,222.7 L487.2,223.3 L487.3,223.8 L487.5,224.4 L487.8,224.9 L488.1,225.4 L488.2,225.6 L488.2,225.6 L488.3,225.6 L488.3,225.6 L488.3,225.7 L488.3,225.7 L488.3,225.7 L488.3,226.1 L488.4,226.7 L488.5,227.2 L488.7,227.8 L488.9,228.3 L489.2,228.6 L489.2,228.6 L489.2,228.7 L489.2,228.7 L489.2,228.7 L489.2,228.7 L489.2,228.7 L489.2,228.7 L489.2,228.8 L489.1,228.9 L489.0,229.5 L489.0,230.1 L489.0,230.6 L489.1,231.2 L489.3,231.8 L489.5,232.3 L489.5,232.5 L489.6,232.5 L489.6,232.5 L489.6,232.5 L489.6,232.6 L489.6,232.6 L489.5,233.0 L489.6,233.6 L489.7,234.1 L489.8,234.7 L490.0,235.2 L490.0,235.2 L490.0,235.3 L490.0,235.3 L490.0,235.3 L490.0,235.3 L490.0,235.3 L490.0,235.4 L490.0,235.4 L490.0,235.4 L490.0,235.4 L489.9,235.5 L489.9,235.6 L489.8,235.7Z M485.6,254.3 L485.6,254.3 L485.8,254.2 L485.8,254.2 L485.8,254.2 L485.8,254.2 L485.9,254.2 L485.9,254.2 L485.9,254.2 L485.9,254.2 L485.9,254.2 L486.0,254.2 L486.0,254.2 L486.0,254.2 L486.0,254.3 L486.0,254.3 L486.0,254.3 L486.2,254.5 L486.6,254.9 L487.1,255.2 L487.6,255.5 L487.7,255.6 L487.7,255.6 L487.7,255.6 L487.7,255.6 L487.8,255.6 L487.8,255.6 L487.8,255.6 L487.8,255.7 L488.0,256.1 L488.3,256.6 L488.6,257.0 L489.0,257.4 L489.4,257.8 L489.6,258.0 L489.6,258.0 L489.6,258.0 L489.6,258.0 L489.7,258.0 L489.7,258.0 L489.7,258.0 L489.7,258.1 L489.7,258.1 L489.7,258.1 L489.7,258.1 L489.7,258.1 L489.7,258.2 L489.7,258.2 L489.7,258.2 L489.7,258.2 L489.6,258.2 L489.6,258.3 L489.6,258.3 L489.6,258.3 L489.6,258.3 L489.6,258.3 L489.5,258.3 L489.5,258.3 L489.5,258.3 L489.5,258.3 L489.2,258.3 L488.6,258.4 L488.0,258.6 L487.5,258.7 L487.4,258.8 L487.4,258.8 L487.4,258.8 L487.3,258.8 L487.3,258.8 L487.3,258.8 L487.3,258.8 L487.3,258.8 L487.2,258.8 L487.2,258.8 L487.2,258.8 L486.7,258.5 L486.2,258.4 L485.6,258.2 L485.1,258.1 L484.7,258.1 L484.7,258.1 L484.6,258.1 L484.6,258.1 L484.6,258.1 L484.6,258.1 L484.6,258.1 L484.5,258.1 L484.5,258.0 L484.5,258.0 L484.5,258.0 L484.5,258.0 L484.4,257.8 L484.4,257.8 L484.3,257.6 L484.3,257.5 L484.2,257.3 L484.2,257.3 L484.2,257.1 L484.2,257.0 L484.1,256.8 L484.1,256.8 L484.1,256.6 L484.1,256.5 L484.1,256.3 L484.1,256.3 L484.2,256.1 L484.2,256.0 L484.3,255.8 L484.3,255.8 L484.4,255.6 L484.4,255.6 L484.5,255.4 L484.5,255.3 L484.6,255.1 L484.6,255.1 L484.8,254.9 L484.8,254.9 L484.9,254.8 L485.0,254.8 L485.1,254.6 L485.1,254.6 L485.3,254.5 L485.4,254.4 L485.6,254.3Z M411.1,272.2 L410.5,272.4 L410.1,272.7 L409.6,273.1 L409.6,273.1 L409.6,273.1 L409.5,273.1 L409.5,273.1 L409.5,273.1 L409.5,273.1 L409.5,273.1 L409.4,273.1 L409.4,273.1 L409.4,273.1 L409.4,273.1 L409.4,273.1 L409.4,273.1 L409.3,273.1 L409.3,273.1 L409.3,273.0 L409.3,273.0 L409.2,272.8 L409.1,272.8 L409.0,272.6 L409.0,272.6 L408.9,272.4 L408.9,272.4 L408.9,272.2 L408.9,272.2 L408.8,272.0 L408.8,272.0 L408.8,271.8 L408.8,271.8 L408.8,271.6 L408.8,271.5 L408.8,271.3 L408.8,271.3 L408.8,271.1 L408.8,271.1 L408.9,270.9 L408.9,270.9 L408.9,270.7 L408.9,270.7 L408.9,270.7 L409.0,270.7 L409.0,270.6 L409.0,270.6 L409.0,270.6 L409.0,270.6 L409.0,270.6 L409.0,270.6 L409.1,270.6 L409.1,270.6 L409.1,270.6 L409.1,270.6 L409.1,270.6 L409.2,270.6 L409.2,270.6 L409.2,270.6 L409.8,270.7 L410.4,270.8 L410.9,270.9 L411.5,270.8 L412.1,270.7 L412.6,270.6 L413.2,270.4 L413.7,270.2 L414.2,269.9 L414.5,269.7 L414.5,269.6 L414.5,269.6 L414.5,269.6 L414.5,269.6 L414.5,269.6 L414.6,269.6 L414.6,269.6 L414.6,269.6 L414.6,269.6 L414.6,269.6 L414.7,269.6 L414.7,269.6 L414.7,269.7 L414.7,269.7 L414.7,269.7 L414.7,269.7 L414.7,269.7 L414.9,269.9 L414.9,269.9 L415.0,270.1 L415.0,270.1 L415.1,270.3 L415.1,270.3 L415.2,270.5 L415.2,270.5 L415.2,270.7 L415.2,270.7 L415.3,270.9 L415.3,271.0 L415.3,271.2 L415.3,271.2 L415.3,271.4 L415.3,271.4 L415.2,271.5 L415.2,271.5 L415.2,271.5 L415.2,271.6 L415.2,271.6 L415.2,271.6 L415.2,271.6 L415.2,271.6 L415.2,271.6 L415.1,271.6 L415.1,271.6 L415.1,271.7 L415.1,271.7 L415.1,271.7 L415.0,271.7 L415.0,271.7 L415.0,271.7 L415.0,271.7 L414.4,271.6 L413.9,271.5 L413.3,271.6 L412.7,271.7 L412.2,271.8 L411.6,272.0 L411.6,272.0 L411.6,272.0 L411.6,272.0 L411.1,272.2Z M332.3,290.8 L332.3,290.8 L332.4,290.6 L332.4,290.5 L332.6,290.4 L332.6,290.3 L332.8,290.2 L332.8,290.2 L333.0,290.0 L333.0,290.0 L333.2,289.9 L333.2,289.9 L333.4,289.8 L333.4,289.7 L333.6,289.7 L333.6,289.6 L333.6,289.6 L333.7,289.6 L333.7,289.6 L333.7,289.6 L333.7,289.6 L333.7,289.6 L333.8,289.6 L333.8,289.6 L333.8,289.7 L333.8,289.7 L333.8,289.7 L333.8,289.7 L333.8,289.7 L333.9,289.7 L333.9,289.7 L333.9,289.7 L334.1,290.3 L334.4,290.7 L334.8,291.2 L335.1,291.6 L335.6,292.0 L336.0,292.3 L336.5,292.6 L336.5,292.6 L336.5,292.6 L336.5,292.7 L336.5,292.7 L336.5,292.7 L336.6,292.7 L336.7,292.9 L337.0,293.4 L337.3,293.9 L337.7,294.3 L338.1,294.7 L338.6,295.0 L339.0,295.3 L339.6,295.5 L340.0,295.7 L340.0,295.7 L340.0,295.7 L340.0,295.7 L340.0,295.7 L340.1,295.8 L340.1,295.8 L340.1,295.8 L340.1,295.8 L340.1,295.8 L340.1,295.8 L340.1,295.9 L340.1,295.9 L340.1,295.9 L340.1,295.9 L340.1,295.9 L340.1,296.0 L340.1,296.0 L340.1,296.0 L340.0,296.2 L340.0,296.2 L339.8,296.4 L339.8,296.4 L339.7,296.6 L339.7,296.6 L339.5,296.8 L339.5,296.8 L339.3,297.0 L339.3,297.0 L339.1,297.1 L339.1,297.1 L339.1,297.1 L339.1,297.1 L339.1,297.1 L339.0,297.1 L339.0,297.1 L339.0,297.1 L339.0,297.1 L339.0,297.1 L338.9,297.1 L338.9,297.1 L338.9,297.1 L338.9,297.1 L338.9,297.1 L338.9,297.1 L338.9,297.0 L338.8,297.0 L338.8,297.0 L338.8,297.0 L338.8,296.9 L338.6,296.4 L338.3,295.9 L337.9,295.4 L337.5,295.0 L337.1,294.6 L336.7,294.3 L336.2,294.0 L335.7,293.8 L335.4,293.7 L335.3,293.6 L335.3,293.6 L335.3,293.6 L335.3,293.6 L335.3,293.6 L335.1,293.4 L334.7,293.0 L334.2,292.7 L333.7,292.4 L333.2,292.1 L332.7,291.9 L332.1,291.8 L332.1,291.8 L332.1,291.8 L332.1,291.8 L332.1,291.8 L332.1,291.8 L332.0,291.7 L332.0,291.7 L332.0,291.7 L332.0,291.7 L332.0,291.7 L332.0,291.7 L332.0,291.6 L332.0,291.6 L332.0,291.6 L332.0,291.6 L332.0,291.5 L332.0,291.5 L332.1,291.2 L332.1,291.2 L332.2,291.0 L332.2,291.0 L332.3,290.8Z M174.3,456.5 L173.7,457.4 L169.9,463.1 L169.8,463.3 L165.6,469.2 L166.2,469.7 L166.7,470.1 L167.1,469.5 L167.7,468.7 L168.5,467.9 L169.2,467.3 L170.1,466.7 L171.0,466.2 L171.9,465.8 L174.5,464.7 L174.5,457.0 L174.5,456.0 L174.3,456.5Z " fill-rule="evenodd"/>
<circle cx="157.2" cy="365.0" r="6"/>
<circle cx="160.2" cy="377.5" r="6"/>
<circle cx="174.7" cy="338.6" r="6"/>
<circle cx="171.5" cy="348.4" r="6"/>
<circle cx="235.4" cy="277.7" r="6"/>
<circle cx="250.4" cy="296.5" r="6"/>
<circle cx="258.5" cy="296.5" r="6"/>
<circle cx="261.7" cy="304.0" r="6"/>
<circle cx="310.6" cy="314.1" r="6"/>
<circle cx="329.4" cy="311.6" r="6"/>
<circle cx="334.4" cy="327.9" r="6"/>
<circle cx="323.9" cy="337.1" r="6"/>
<circle cx="358.2" cy="337.9" r="6"/>
<circle cx="305.6" cy="336.6" r="6"/>
<circle cx="304.3" cy="345.4" r="6"/>
<circle cx="305.1" cy="354.2" r="6"/>
<circle cx="306.8" cy="369.2" r="6"/>
<circle cx="285.5" cy="373.0" r="6"/>
<circle cx="298.1" cy="375.5" r="6"/>
<circle cx="271.7" cy="373.0" r="6"/>
<circle cx="275.5" cy="359.2" r="6"/>
<circle cx="362.7" cy="238.9" r="6"/>
<circle cx="148.9" cy="386.0" r="6"/>
<circle cx="128.8" cy="406.8" r="6"/>
<circle cx="160.9" cy="402.3" r="6"/>
<circle cx="132.8" cy="451.2" r="6"/>
<circle cx="132.8" cy="470.0" r="6"/>
<circle cx="128.8" cy="482.8" r="6"/>
<circle cx="157.2" cy="446.9" r="6"/>
<circle cx="160.2" cy="431.9" r="6"/>
<circle cx="162.7" cy="462.0" r="6"/>
<circle cx="157.2" cy="471.3" r="6"/>
<circle cx="167.2" cy="475.3" r="6"/>
<circle cx="164.7" cy="482.8" r="6"/>
<circle cx="179.7" cy="467.5" r="6"/>
<circle cx="175.2" cy="457.7" r="6"/>
<circle cx="168.9" cy="453.2" r="6"/>
<circle cx="148.9" cy="497.8" r="6"/>
<circle cx="160.2" cy="494.8" r="6"/>
<circle cx="156.9" cy="504.1" r="6"/>
<circle cx="176.5" cy="496.6" r="6"/>
<circle cx="180.2" cy="500.3" r="6"/>
<circle cx="148.9" cy="522.2" r="6"/>
<circle cx="156.9" cy="527.9" r="6"/>
<circle cx="132.8" cy="534.9" r="6"/>
<circle cx="148.9" cy="550.0" r="6"/>
<circle cx="128.8" cy="554.3" r="6"/>
<circle cx="129.1" cy="561.3" r="6"/>
<circle cx="194.8" cy="446.9" r="6"/>
<circle cx="204.0" cy="446.9" r="6"/>
<circle cx="210.3" cy="436.9" r="6"/>
<circle cx="216.6" cy="430.1" r="6"/>
<circle cx="208.3" cy="431.9" r="6"/>
<circle cx="229.6" cy="430.1" r="6"/>
<circle cx="245.9" cy="431.2" r="6"/>
<circle cx="255.9" cy="430.1" r="6"/>
<circle cx="245.9" cy="447.7" r="6"/>
<circle cx="262.0" cy="441.7" r="6"/>
<circle cx="276.0" cy="425.9" r="6"/>
<circle cx="291.8" cy="391.8" r="6"/>
<circle cx="298.1" cy="378.0" r="6"/>
<circle cx="270.5" cy="380.5" r="6"/>
<circle cx="263.0" cy="415.6" r="6"/>
<circle cx="259.2" cy="414.4" r="6"/>
<circle cx="268.0" cy="406.1" r="6"/>
<circle cx="264.2" cy="391.0" r="6"/>
<circle cx="256.7" cy="395.5" r="6"/>
<circle cx="252.9" cy="401.8" r="6"/>
<circle cx="254.9" cy="424.4" r="6"/>
<circle cx="244.2" cy="419.4" r="6"/>
<circle cx="391.6" cy="214.1" r="6"/>
<circle cx="386.6" cy="222.1" r="6"/>
<circle cx="396.6" cy="220.3" r="6"/>
<circle cx="396.6" cy="236.1" r="6"/>
<circle cx="406.6" cy="227.9" r="6"/>
<circle cx="415.4" cy="228.4" r="6"/>
<circle cx="431.7" cy="194.0" r="6"/>
<circle cx="443.0" cy="187.2" r="6"/>
<circle cx="446.7" cy="199.0" r="6"/>
<circle cx="507.7" cy="167.2" r="6"/>
<circle cx="528.2" cy="168.2" r="6"/>
<circle cx="612.2" cy="199.0" r="6"/>
<circle cx="622.2" cy="192.3" r="6"/>
<circle cx="611.0" cy="180.2" r="6"/>
<circle cx="585.9" cy="217.8" r="6"/>
<circle cx="578.9" cy="224.6" r="6"/>
<circle cx="564.6" cy="249.2" r="6"/>
<circle cx="553.8" cy="274.7" r="6"/>
<circle cx="550.8" cy="158.9" r="6"/>
<circle cx="489.4" cy="174.0" r="6"/>
<circle cx="468.0" cy="182.7" r="6"/>
<circle cx="553.8" cy="275.9" r="6"/>
<circle cx="532.0" cy="293.2" r="6"/>
<circle cx="486.8" cy="298.9" r="6"/>
<circle cx="485.6" cy="303.2" r="6"/>
<circle cx="455.5" cy="312.7" r="6"/>
<circle cx="448.0" cy="314.0" r="6"/>
<circle cx="432.9" cy="315.7" r="6"/>
<circle cx="446.2" cy="321.5" r="6"/>
<circle cx="439.2" cy="323.2" r="6"/>
<circle cx="427.9" cy="326.0" r="6"/>
<circle cx="451.0" cy="337.0" r="6"/>
<circle cx="411.6" cy="318.2" r="6"/>
<circle cx="396.6" cy="329.0" r="6"/>
<circle cx="402.9" cy="334.8" r="6"/>
<circle cx="394.1" cy="335.8" r="6"/>
<circle cx="402.1" cy="342.8" r="6"/>
<circle cx="402.1" cy="349.6" r="6"/>
<circle cx="372.8" cy="337.8" r="6"/>
<circle cx="375.8" cy="350.8" r="6"/>
<circle cx="371.5" cy="322.7" r="6"/>
<circle cx="369.0" cy="314.0" r="6"/>
<circle cx="364.0" cy="332.8" r="6"/>
<circle cx="513.2" cy="272.6" r="6"/>
<circle cx="503.6" cy="277.6" r="6"/>
<circle cx="539.5" cy="275.1" r="6"/>
<circle cx="532.0" cy="272.6" r="6"/>
<circle cx="673.1" cy="118.2" r="6"/>
<circle cx="683.2" cy="118.2" r="6"/>
<circle cx="691.9" cy="121.4" r="6"/>
<circle cx="749.1" cy="110.9" r="6"/>
<circle cx="754.6" cy="115.2" r="6"/>
<circle cx="750.1" cy="139.0" r="6"/>
<circle cx="767.1" cy="150.8" r="6"/>
<circle cx="814.0" cy="138.0" r="6"/>
<circle cx="808.0" cy="123.9" r="6"/>
<circle cx="820.5" cy="123.9" r="6"/>
<circle cx="817.3" cy="112.6" r="6"/>
<circle cx="826.1" cy="103.9" r="6"/>
<circle cx="814.8" cy="113.9" r="6"/>
<circle cx="839.9" cy="105.1" r="6"/>
<circle cx="834.8" cy="112.6" r="6"/>
<circle cx="832.3" cy="117.7" r="6"/>
<circle cx="846.1" cy="113.9" r="6"/>
<circle cx="847.4" cy="122.7" r="6"/>
<circle cx="846.9" cy="130.2" r="6"/>
<circle cx="854.9" cy="113.9" r="6"/>
<circle cx="862.4" cy="113.9" r="6"/>
<circle cx="868.7" cy="117.2" r="6"/>
<circle cx="852.4" cy="120.2" r="6"/>
<circle cx="876.2" cy="96.4" r="6"/>
<circle cx="875.0" cy="103.1" r="6"/>
<circle cx="683.2" cy="157.0" r="6"/>
<circle cx="699.0" cy="159.0" r="6"/>
<circle cx="673.1" cy="169.1" r="6"/>
<circle cx="672.6" cy="174.1" r="6"/>
<circle cx="662.1" cy="183.9" r="6"/>
<circle cx="636.8" cy="181.1" r="6"/>
<circle cx="649.3" cy="177.8" r="6"/>
<circle cx="796.0" cy="133.2" r="6"/>
<circle cx="802.2" cy="113.9" r="6"/>
<circle cx="791.0" cy="118.9" r="6"/>
<circle cx="215.5" cy="302.0" r="6"/>
<circle cx="217.4" cy="307.7" r="6"/>
<circle cx="229.8" cy="289.7" r="6"/>
<circle cx="280.7" cy="358.4" r="6"/>
<circle cx="300.0" cy="312.5" r="6"/>
<circle cx="301.9" cy="322.0" r="6"/>
<circle cx="219.9" cy="303.9" r="6"/>
<circle cx="223.7" cy="310.2" r="6"/>
<circle cx="275.4" cy="346.7" r="6"/>
<circle cx="348.0" cy="321.2" r="6"/>
<circle cx="356.6" cy="324.1" r="6"/>
<circle cx="364.2" cy="326.9" r="6"/>
<circle cx="370.8" cy="315.5" r="6"/>
<circle cx="461.1" cy="290.8" r="6"/>
<circle cx="371.2" cy="237.4" r="6"/>
<circle cx="767.4" cy="135.1" r="6"/>
<circle cx="776.5" cy="133.9" r="6"/>
<circle cx="786.1" cy="130.5" r="6"/>
<circle cx="794.0" cy="125.2" r="6"/>
<circle cx="800.7" cy="118.1" r="6"/>
<circle cx="791.6" cy="121.2" r="6"/>
<circle cx="779.0" cy="126.5" r="6"/>
<circle cx="775.0" cy="122.6" r="6"/>
<circle cx="764.4" cy="125.7" r="6"/>
<circle cx="755.4" cy="125.1" r="6"/>
<circle cx="761.4" cy="131.4" r="6"/>
<circle cx="162.7" cy="444.1" r="6"/>
<circle cx="168.9" cy="455.0" r="6"/>
<circle cx="163.8" cy="462.7" r="6"/>
<circle cx="162.3" cy="471.6" r="6"/>
<circle cx="165.6" cy="480.4" r="6"/>
<circle cx="171.3" cy="472.7" r="6"/>
<circle cx="176.3" cy="469.9" r="6"/>
<circle cx="179.2" cy="459.2" r="6"/>
<circle cx="184.9" cy="448.0" r="6"/>
<circle cx="192.0" cy="442.6" r="6"/>
<circle cx="193.5" cy="434.2" r="6"/>
<circle cx="200.7" cy="424.5" r="6"/>
<circle cx="205.1" cy="420.2" r="6"/>
<circle cx="217.6" cy="419.3" r="6"/>
<circle cx="219.7" cy="413.1" r="6"/>
<circle cx="227.7" cy="411.3" r="6"/>
<circle cx="237.3" cy="413.8" r="6"/>
<circle cx="237.2" cy="404.1" r="6"/>
<circle cx="245.6" cy="387.0" r="6"/>
<circle cx="251.5" cy="377.5" r="6"/>
<circle cx="255.2" cy="373.4" r="6"/>
<circle cx="253.5" cy="362.9" r="6"/>
<circle cx="258.8" cy="354.8" r="6"/>
<circle cx="275.2" cy="345.6" r="6"/>
<circle cx="284.9" cy="340.5" r="6"/>
<circle cx="285.0" cy="332.0" r="6"/>
<circle cx="296.5" cy="325.6" r="6"/>
<circle cx="294.4" cy="318.6" r="6"/>
<circle cx="293.1" cy="306.5" r="6"/>
<circle cx="294.7" cy="301.0" r="6"/>
<circle cx="302.2" cy="298.1" r="6"/>
<circle cx="325.7" cy="295.2" r="6"/>
<circle cx="328.4" cy="299.4" r="6"/>
<circle cx="337.9" cy="305.4" r="6"/>
<circle cx="346.9" cy="310.5" r="6"/>
<circle cx="349.7" cy="317.3" r="6"/>
<circle cx="356.8" cy="312.3" r="6"/>
<circle cx="400.2" cy="308.2" r="6"/>
<circle cx="411.6" cy="305.6" r="6"/>
<circle cx="441.1" cy="287.3" r="6"/>
<circle cx="451.3" cy="282.8" r="6"/>
<circle cx="454.3" cy="281.5" r="6"/>
<circle cx="461.8" cy="281.7" r="6"/>
<circle cx="475.9" cy="273.2" r="6"/>
<circle cx="480.1" cy="278.2" r="6"/>
<circle cx="484.4" cy="289.5" r="6"/>
<circle cx="488.3" cy="280.8" r="6"/>
<circle cx="490.3" cy="273.5" r="6"/>
<circle cx="501.8" cy="272.3" r="6"/>
<circle cx="510.8" cy="272.7" r="6"/>
<circle cx="512.2" cy="273.2" r="6"/>
<circle cx="527.6" cy="272.8" r="6"/>
<circle cx="538.7" cy="267.8" r="6"/>
<circle cx="539.3" cy="260.8" r="6"/>
<circle cx="548.1" cy="251.9" r="6"/>
<circle cx="556.4" cy="249.3" r="6"/>
<circle cx="561.6" cy="243.3" r="6"/>
<circle cx="560.6" cy="238.6" r="6"/>
<circle cx="561.7" cy="227.6" r="6"/>
<circle cx="566.3" cy="214.7" r="6"/>
<circle cx="574.7" cy="211.8" r="6"/>
<circle cx="582.1" cy="203.0" r="6"/>
<circle cx="585.0" cy="197.7" r="6"/>
<circle cx="587.0" cy="191.9" r="6"/>
<circle cx="589.7" cy="182.1" r="6"/>
<circle cx="599.7" cy="173.4" r="6"/>
<circle cx="610.1" cy="172.2" r="6"/>
<circle cx="616.8" cy="177.7" r="6"/>
<circle cx="629.2" cy="176.8" r="6"/>
<circle cx="640.0" cy="178.8" r="6"/>
<circle cx="647.6" cy="177.5" r="6"/>
<circle cx="654.4" cy="170.5" r="6"/>
<circle cx="662.2" cy="166.8" r="6"/>
<circle cx="669.4" cy="155.6" r="6"/>
<circle cx="673.5" cy="152.0" r="6"/>
<circle cx="675.8" cy="146.5" r="6"/>
<circle cx="685.4" cy="143.1" r="6"/>
<circle cx="700.0" cy="150.3" r="6"/>
<circle cx="705.4" cy="148.1" r="6"/>
<circle cx="715.1" cy="145.5" r="6"/>
<circle cx="725.5" cy="146.7" r="6"/>
<circle cx="733.9" cy="141.7" r="6"/>
<circle cx="737.0" cy="135.1" r="6"/>
<circle cx="736.4" cy="124.0" r="6"/>
<circle cx="725.3" cy="120.3" r="6"/>
<circle cx="717.5" cy="119.6" r="6"/>
<circle cx="707.8" cy="121.6" r="6"/>
<circle cx="696.2" cy="127.8" r="6"/>
<circle cx="691.7" cy="125.8" r="6"/>
<circle cx="677.0" cy="130.8" r="6"/>
<circle cx="672.1" cy="135.2" r="6"/>
<circle cx="661.7" cy="138.5" r="6"/>
<circle cx="651.8" cy="141.0" r="6"/>
<circle cx="646.9" cy="145.3" r="6"/>
<circle cx="637.7" cy="145.8" r="6"/>
<circle cx="619.7" cy="147.8" r="6"/>
<circle cx="617.9" cy="146.8" r="6"/>
<circle cx="604.8" cy="148.9" r="6"/>
<circle cx="594.0" cy="148.5" r="6"/>
<circle cx="586.3" cy="152.6" r="6"/>
<circle cx="580.5" cy="159.1" r="6"/>
<circle cx="574.2" cy="168.1" r="6"/>
<circle cx="564.2" cy="175.9" r="6"/>
<circle cx="559.0" cy="172.7" r="6"/>
<circle cx="550.3" cy="161.7" r="6"/>
<circle cx="544.5" cy="165.2" r="6"/>
<circle cx="532.9" cy="174.2" r="6"/>
<circle cx="525.6" cy="181.2" r="6"/>
<circle cx="523.3" cy="188.6" r="6"/>
<circle cx="512.7" cy="189.5" r="6"/>
<circle cx="508.5" cy="181.9" r="6"/>
<circle cx="489.9" cy="181.3" r="6"/>
<circle cx="484.8" cy="177.5" r="6"/>
<circle cx="474.7" cy="183.8" r="6"/>
<circle cx="470.1" cy="189.7" r="6"/>
<circle cx="463.0" cy="200.9" r="6"/>
<circle cx="457.9" cy="204.1" r="6"/>
<circle cx="450.5" cy="212.6" r="6"/>
<circle cx="442.4" cy="209.1" r="6"/>
<circle cx="432.0" cy="211.7" r="6"/>
<circle cx="428.7" cy="219.1" r="6"/>
<circle cx="421.8" cy="227.2" r="6"/>
<circle cx="410.9" cy="232.7" r="6"/>
<circle cx="406.6" cy="242.0" r="6"/>
<circle cx="396.4" cy="246.9" r="6"/>
<circle cx="388.8" cy="247.2" r="6"/>
<circle cx="378.5" cy="246.9" r="6"/>
<circle cx="368.1" cy="243.7" r="6"/>
<circle cx="363.2" cy="246.2" r="6"/>
<circle cx="350.3" cy="249.1" r="6"/>
<circle cx="341.7" cy="247.7" r="6"/>
<circle cx="335.2" cy="248.4" r="6"/>
<circle cx="326.8" cy="250.7" r="6"/>
<circle cx="314.9" cy="259.3" r="6"/>
<circle cx="306.4" cy="265.6" r="6"/>
<circle cx="302.1" cy="274.8" r="6"/>
<circle cx="298.2" cy="284.4" r="6"/>
<circle cx="293.5" cy="287.8" r="6"/>
<circle cx="285.2" cy="300.0" r="6"/>
<circle cx="277.9" cy="307.5" r="6"/>
<circle cx="274.3" cy="312.8" r="6"/>
<circle cx="268.4" cy="320.3" r="6"/>
<circle cx="261.7" cy="324.8" r="6"/>
<circle cx="251.4" cy="322.6" r="6"/>
<circle cx="242.4" cy="306.7" r="6"/>
<circle cx="236.3" cy="300.8" r="6"/>
<circle cx="235.0" cy="293.7" r="6"/>
<circle cx="221.6" cy="298.9" r="6"/>
<circle cx="219.5" cy="307.3" r="6"/>
<circle cx="203.9" cy="323.7" r="6"/>
<circle cx="203.1" cy="327.9" r="6"/>
<circle cx="203.0" cy="336.2" r="6"/>
<circle cx="190.1" cy="352.1" r="6"/>
<circle cx="187.9" cy="351.6" r="6"/>
<circle cx="179.9" cy="335.3" r="6"/>
<circle cx="174.3" cy="347.3" r="6"/>
<circle cx="173.0" cy="361.0" r="6"/>
<circle cx="171.9" cy="364.4" r="6"/>
<circle cx="171.7" cy="380.0" r="6"/>
<circle cx="169.1" cy="384.3" r="6"/>
<circle cx="171.6" cy="391.9" r="6"/>
<circle cx="170.8" cy="407.0" r="6"/>
<circle cx="166.6" cy="412.6" r="6"/>
<circle cx="168.7" cy="427.0" r="6"/>
<circle cx="168.6" cy="433.4" r="6"/>
<circle cx="167.7" cy="439.2" r="6"/>
<circle cx="250.3" cy="362.5" r="6"/>
<circle cx="243.3" cy="357.9" r="6"/>
<circle cx="352.3" cy="320.1" r="6"/>
<circle cx="318.7" cy="263.3" r="6"/>
<circle cx="464.2" cy="203.8" r="6"/>
<circle cx="447.4" cy="212.9" r="6"/>
<circle cx="734.9" cy="134.0" r="6"/>
<circle cx="185.5" cy="348.6" r="6"/>
<circle cx="500.3" cy="265.5" r="6"/>
<circle cx="731.0" cy="142.9" r="6"/>
<circle cx="408.7" cy="295.8" r="6"/>
<circle cx="330.9" cy="254.8" r="6"/>
<circle cx="467.0" cy="273.6" r="6"/>
<circle cx="707.4" cy="139.7" r="6"/>
<circle cx="207.7" cy="348.8" r="6"/>
<circle cx="560.4" cy="241.2" r="6"/>
<circle cx="333.6" cy="301.7" r="6"/>
<circle cx="235.6" cy="411.3" r="6"/>
<circle cx="593.5" cy="171.4" r="6"/>
<circle cx="728.6" cy="134.4" r="6"/>
<circle cx="251.2" cy="363.5" r="6"/>
<circle cx="294.8" cy="291.3" r="6"/>
<circle cx="172.7" cy="468.0" r="6"/>
<circle cx="683.5" cy="130.0" r="6"/>
<circle cx="181.4" cy="350.5" r="6"/>
<circle cx="633.1" cy="174.8" r="6"/>
<circle cx="375.5" cy="246.2" r="6"/>
<circle cx="409.2" cy="248.1" r="6"/>
<circle cx="345.3" cy="303.6" r="6"/>
<circle cx="483.2" cy="187.0" r="6"/>
<circle cx="546.2" cy="246.5" r="6"/>
<circle cx="676.7" cy="141.5" r="6"/>
<circle cx="612.1" cy="152.5" r="6"/>
<circle cx="305.2" cy="282.4" r="6"/>
<circle cx="584.4" cy="158.4" r="6"/>
<circle cx="247.0" cy="374.0" r="6"/>
<circle cx="345.0" cy="249.1" r="6"/>
<circle cx="166.3" cy="476.9" r="6"/>
<circle cx="640.7" cy="149.4" r="6"/>
<circle cx="432.3" cy="221.3" r="6"/>
<circle cx="531.9" cy="269.3" r="6"/>
<circle cx="252.9" cy="361.1" r="6"/>
<circle cx="716.3" cy="143.6" r="6"/>
<circle cx="561.1" cy="239.8" r="6"/>
<circle cx="217.0" cy="412.6" r="6"/>
<circle cx="178.0" cy="399.7" r="6"/>
<circle cx="713.6" cy="140.8" r="6"/>
<circle cx="521.2" cy="266.9" r="6"/>
<circle cx="307.9" cy="274.4" r="6"/>
<circle cx="599.0" cy="172.5" r="6"/>
<circle cx="465.1" cy="198.9" r="6"/>
<circle cx="402.7" cy="308.7" r="6"/>
<circle cx="722.5" cy="139.9" r="6"/>
<circle cx="190.8" cy="430.2" r="6"/>
<circle cx="205.5" cy="334.1" r="6"/>
<circle cx="234.5" cy="298.0" r="6"/>
<circle cx="730.6" cy="124.6" r="6"/>
<circle cx="640.4" cy="174.5" r="6"/>
<circle cx="663.9" cy="152.4" r="6"/>
<circle cx="230.3" cy="412.1" r="6"/>
<circle cx="263.2" cy="326.5" r="6"/>
<circle cx="336.0" cy="249.9" r="6"/>
<circle cx="202.6" cy="336.7" r="6"/>
<circle cx="677.2" cy="133.4" r="6"/>
<circle cx="483.1" cy="272.0" r="6"/>
<circle cx="563.6" cy="214.2" r="6"/>
<circle cx="187.1" cy="439.7" r="6"/>
<circle cx="171.1" cy="392.1" r="6"/>
<circle cx="672.2" cy="147.1" r="6"/>
<circle cx="237.7" cy="353.5" r="6"/>
<circle cx="179.0" cy="364.6" r="6"/>
<circle cx="191.8" cy="358.4" r="6"/>
<circle cx="615.7" cy="152.9" r="6"/>
<circle cx="577.0" cy="171.4" r="6"/>
<circle cx="651.2" cy="165.1" r="6"/>
<circle cx="283.0" cy="329.2" r="6"/>
<circle cx="245.1" cy="313.5" r="6"/>
<circle cx="176.1" cy="406.3" r="6"/>
<circle cx="469.8" cy="269.3" r="6"/>
<circle cx="218.6" cy="308.0" r="6"/>
<circle cx="594.0" cy="170.4" r="6"/>
<circle cx="483.0" cy="185.3" r="6"/>
<circle cx="326.5" cy="252.7" r="6"/>
<circle cx="408.0" cy="250.0" r="6"/>
<circle cx="173.4" cy="374.5" r="6"/>
<circle cx="644.9" cy="172.9" r="6"/>
<circle cx="337.6" cy="252.7" r="6"/>
<circle cx="252.3" cy="364.2" r="6"/>
<circle cx="682.1" cy="131.1" r="6"/>
<circle cx="291.4" cy="302.1" r="6"/>
<circle cx="202.5" cy="418.6" r="6"/>
<circle cx="518.8" cy="267.9" r="6"/>
<circle cx="357.3" cy="303.8" r="6"/>
<circle cx="575.0" cy="175.6" r="6"/>
<circle cx="522.3" cy="190.0" r="6"/>
<circle cx="278.3" cy="310.9" r="6"/>
<circle cx="355.9" cy="248.7" r="6"/>
<circle cx="229.0" cy="406.0" r="6"/>
<circle cx="536.0" cy="255.1" r="6"/>
<circle cx="301.9" cy="278.7" r="6"/>
<circle cx="205.7" cy="344.2" r="6"/>
<circle cx="251.4" cy="371.3" r="6"/>
<circle cx="239.8" cy="399.4" r="6"/>
<circle cx="529.8" cy="187.6" r="6"/>
<circle cx="228.7" cy="370.5" r="6"/>
<circle cx="355.5" cy="315.9" r="6"/>
<circle cx="759.9" cy="128.2" r="6"/>
<circle cx="237.9" cy="307.6" r="6"/>
<circle cx="519.1" cy="269.2" r="6"/>
<circle cx="284.1" cy="305.8" r="6"/>
<circle cx="588.8" cy="180.5" r="6"/>
<circle cx="703.4" cy="126.7" r="6"/>
<circle cx="467.7" cy="267.7" r="6"/>
<circle cx="400.3" cy="296.5" r="6"/>
<circle cx="188.7" cy="435.9" r="6"/>
<circle cx="554.8" cy="238.8" r="6"/>
<circle cx="179.2" cy="352.8" r="6"/>
<circle cx="406.8" cy="243.9" r="6"/>
<circle cx="759.4" cy="125.8" r="6"/>
<circle cx="642.2" cy="152.1" r="6"/>
<circle cx="225.5" cy="300.1" r="6"/>
<circle cx="356.7" cy="304.8" r="6"/>
<circle cx="507.5" cy="272.7" r="6"/>
<circle cx="299.3" cy="289.3" r="6"/>
<circle cx="291.5" cy="312.1" r="6"/>
<circle cx="529.8" cy="181.5" r="6"/>
<circle cx="641.2" cy="172.4" r="6"/>
<circle cx="772.8" cy="123.9" r="6"/>
<circle cx="735.5" cy="127.7" r="6"/>
<circle cx="168.1" cy="443.5" r="6"/>
<circle cx="586.1" cy="188.5" r="6"/>
<circle cx="287.8" cy="315.9" r="6"/>
<circle cx="178.1" cy="452.1" r="6"/>
<circle cx="181.6" cy="451.2" r="6"/>
<circle cx="169.2" cy="434.2" r="6"/>
<circle cx="234.6" cy="354.6" r="6"/>
<circle cx="552.2" cy="245.3" r="6"/>
<circle cx="228.9" cy="366.6" r="6"/>
<circle cx="505.4" cy="267.1" r="6"/>
<circle cx="688.9" cy="141.9" r="6"/>
<circle cx="175.8" cy="460.3" r="6"/>
<circle cx="710.3" cy="128.0" r="6"/>
<circle cx="543.5" cy="250.6" r="6"/>
<circle cx="608.4" cy="170.2" r="6"/>
<circle cx="527.0" cy="266.3" r="6"/>
<circle cx="581.4" cy="166.4" r="6"/>
<circle cx="223.7" cy="406.4" r="6"/>
<circle cx="293.9" cy="311.9" r="6"/>
<circle cx="669.8" cy="146.2" r="6"/>
<circle cx="249.8" cy="378.0" r="6"/>
<circle cx="709.5" cy="122.8" r="6"/>
<circle cx="165.7" cy="469.9" r="6"/>
<circle cx="648.4" cy="150.6" r="6"/>
<circle cx="189.0" cy="355.9" r="6"/>
<circle cx="652.0" cy="146.4" r="6"/>
<circle cx="633.2" cy="175.9" r="6"/>
<circle cx="588.4" cy="183.5" r="6"/>
<circle cx="441.5" cy="285.1" r="6"/>
<circle cx="576.1" cy="171.8" r="6"/>
<circle cx="187.2" cy="437.5" r="6"/>
<circle cx="513.7" cy="191.3" r="6"/>
<circle cx="167.8" cy="464.6" r="6"/>
<circle cx="230.9" cy="368.8" r="6"/>
<circle cx="487.2" cy="182.0" r="6"/>
<circle cx="679.1" cy="141.7" r="6"/>
<circle cx="587.2" cy="179.8" r="6"/>
<circle cx="770.0" cy="132.6" r="6"/>
<circle cx="231.6" cy="306.2" r="6"/>
<circle cx="687.9" cy="130.9" r="6"/>
<circle cx="573.9" cy="171.8" r="6"/>
<circle cx="307.8" cy="291.0" r="6"/>
<circle cx="490.5" cy="196.2" r="6"/>
<circle cx="293.5" cy="302.4" r="6"/>
<circle cx="458.6" cy="211.9" r="6"/>
<circle cx="186.9" cy="349.9" r="6"/>
<circle cx="172.7" cy="435.1" r="6"/>
<circle cx="690.7" cy="134.5" r="6"/>
<circle cx="520.9" cy="190.3" r="6"/>
<circle cx="471.7" cy="271.1" r="6"/>
<circle cx="448.8" cy="274.9" r="6"/>
<circle cx="335.3" cy="255.3" r="6"/>
<circle cx="709.5" cy="125.4" r="6"/>
<circle cx="203.9" cy="355.6" r="6"/>
<circle cx="661.3" cy="140.0" r="6"/>
<circle cx="727.3" cy="144.9" r="6"/>
<circle cx="174.1" cy="384.8" r="6"/>
<circle cx="298.9" cy="299.2" r="6"/>
<circle cx="703.1" cy="141.0" r="6"/>
<circle cx="528.3" cy="185.7" r="6"/>
<circle cx="233.5" cy="294.5" r="6"/>
<circle cx="189.8" cy="443.4" r="6"/>
<circle cx="174.3" cy="367.2" r="6"/>
<circle cx="582.0" cy="189.9" r="6"/>
<circle cx="488.6" cy="274.2" r="6"/>
<circle cx="374.6" cy="252.1" r="6"/>
<circle cx="175.6" cy="368.3" r="6"/>
<circle cx="541.7" cy="255.3" r="6"/>
<circle cx="171.4" cy="458.5" r="6"/>
<circle cx="508.9" cy="266.8" r="6"/>
<circle cx="339.9" cy="250.5" r="6"/>
<circle cx="559.8" cy="212.0" r="6"/>
<circle cx="272.8" cy="314.7" r="6"/>
<circle cx="549.3" cy="246.8" r="6"/>
<circle cx="167.8" cy="420.3" r="6"/>
<circle cx="459.8" cy="278.3" r="6"/>
<circle cx="650.8" cy="166.4" r="6"/>
<circle cx="599.5" cy="167.6" r="6"/>
<circle cx="278.1" cy="313.4" r="6"/>
<circle cx="356.0" cy="313.7" r="6"/>
<circle cx="537.5" cy="171.7" r="6"/>
<circle cx="466.3" cy="195.9" r="6"/>
<circle cx="169.5" cy="430.8" r="6"/>
<circle cx="439.6" cy="282.6" r="6"/>
<circle cx="565.3" cy="181.4" r="6"/>
<circle cx="437.4" cy="280.7" r="6"/>
<circle cx="505.7" cy="197.1" r="6"/>
<circle cx="508.0" cy="268.3" r="6"/>
<circle cx="304.6" cy="281.8" r="6"/>
<circle cx="220.8" cy="306.1" r="6"/>
<circle cx="350.2" cy="253.2" r="6"/>
<circle cx="436.7" cy="211.4" r="6"/>
<circle cx="445.2" cy="212.8" r="6"/>
<circle cx="244.0" cy="352.1" r="6"/>
<circle cx="611.9" cy="150.4" r="6"/>
<circle cx="532.5" cy="269.2" r="6"/>
<circle cx="379.9" cy="247.9" r="6"/>
<circle cx="779.2" cy="133.5" r="6"/>
<circle cx="559.9" cy="242.2" r="6"/>
<circle cx="576.1" cy="174.1" r="6"/>
<circle cx="297.1" cy="288.9" r="6"/>
<circle cx="370.5" cy="251.2" r="6"/>
<circle cx="671.6" cy="150.8" r="6"/>
<circle cx="479.8" cy="278.2" r="6"/>
<circle cx="205.5" cy="348.6" r="6"/>
<circle cx="444.5" cy="214.5" r="6"/>
<circle cx="719.0" cy="141.9" r="6"/>
<circle cx="712.1" cy="127.9" r="6"/>
<circle cx="245.1" cy="384.8" r="6"/>
<circle cx="797.9" cy="119.5" r="6"/>
<circle cx="252.5" cy="362.3" r="6"/>
<circle cx="174.8" cy="377.6" r="6"/>
<circle cx="766.2" cy="134.3" r="6"/>
<circle cx="177.8" cy="457.9" r="6"/>
<circle cx="205.5" cy="353.2" r="6"/>
<circle cx="204.0" cy="329.3" r="6"/>
<circle cx="561.4" cy="211.4" r="6"/>
<circle cx="309.3" cy="298.2" r="6"/>
<circle cx="175.8" cy="410.2" r="6"/>
<circle cx="702.0" cy="125.7" r="6"/>
<circle cx="326.9" cy="255.0" r="6"/>
<circle cx="287.4" cy="303.2" r="6"/>
<circle cx="173.2" cy="452.0" r="6"/>
<circle cx="458.8" cy="211.5" r="6"/>
<circle cx="687.4" cy="142.8" r="6"/>
<circle cx="290.6" cy="301.9" r="6"/>
<circle cx="794.4" cy="128.4" r="6"/>
<circle cx="584.4" cy="200.0" r="6"/>
<circle cx="770.2" cy="126.2" r="6"/>
<circle cx="647.0" cy="170.3" r="6"/>
<circle cx="291.7" cy="307.8" r="6"/>
<circle cx="458.2" cy="280.6" r="6"/>
<circle cx="458.8" cy="214.9" r="6"/>
<circle cx="231.1" cy="297.1" r="6"/>
<circle cx="177.6" cy="462.2" r="6"/>
<circle cx="736.6" cy="126.6" r="6"/>
<circle cx="502.1" cy="272.5" r="6"/>
<circle cx="405.8" cy="245.4" r="6"/>
<circle cx="347.3" cy="250.6" r="6"/>
<circle cx="784.8" cy="124.5" r="6"/>
<circle cx="510.6" cy="271.0" r="6"/>
<circle cx="238.1" cy="371.9" r="6"/>
<circle cx="168.9" cy="433.0" r="6"/>
<circle cx="200.9" cy="420.4" r="6"/>
<circle cx="282.5" cy="309.9" r="6"/>
<circle cx="760.9" cy="126.1" r="6"/>
<circle cx="228.9" cy="367.5" r="6"/>
<circle cx="193.1" cy="356.8" r="6"/>
<circle cx="442.2" cy="213.1" r="6"/>
<circle cx="288.7" cy="313.0" r="6"/>
<circle cx="241.9" cy="312.7" r="6"/>
<circle cx="222.5" cy="300.4" r="6"/>
<circle cx="278.5" cy="339.0" r="6"/>
<circle cx="581.6" cy="159.5" r="6"/>
<circle cx="172.3" cy="382.7" r="6"/>
<circle cx="251.5" cy="354.9" r="6"/>
<circle cx="588.3" cy="158.2" r="6"/>
<circle cx="464.3" cy="273.2" r="6"/>
<circle cx="233.9" cy="297.3" r="6"/>
<circle cx="703.2" cy="125.2" r="6"/>
<circle cx="755.9" cy="122.1" r="6"/>
<circle cx="175.8" cy="368.1" r="6"/>
<circle cx="334.6" cy="253.9" r="6"/>
<circle cx="725.1" cy="126.2" r="6"/>
<circle cx="281.5" cy="309.3" r="6"/>
<circle cx="718.5" cy="140.6" r="6"/>
<circle cx="325.6" cy="255.9" r="6"/>
<circle cx="279.6" cy="329.4" r="6"/>
<circle cx="606.6" cy="171.7" r="6"/>
<circle cx="582.4" cy="162.4" r="6"/>
<circle cx="544.1" cy="165.9" r="6"/>
<circle cx="526.9" cy="267.4" r="6"/>
<circle cx="554.4" cy="247.8" r="6"/>
<circle cx="597.7" cy="169.9" r="6"/>
<circle cx="302.1" cy="288.7" r="6"/>
<circle cx="727.6" cy="145.0" r="6"/>
<circle cx="532.2" cy="266.2" r="6"/>
<circle cx="301.9" cy="275.7" r="6"/>
<circle cx="606.1" cy="169.1" r="6"/>
<circle cx="238.9" cy="351.3" r="6"/>
<circle cx="281.6" cy="333.4" r="6"/>
<circle cx="405.5" cy="307.0" r="6"/>
<circle cx="170.0" cy="411.3" r="6"/>
<circle cx="480.5" cy="186.8" r="6"/>
<circle cx="652.0" cy="149.8" r="6"/>
<circle cx="253.0" cy="371.7" r="6"/>
<circle cx="309.3" cy="292.7" r="6"/>
<circle cx="506.2" cy="189.6" r="6"/>
<circle cx="581.7" cy="187.7" r="6"/>
<circle cx="478.4" cy="183.3" r="6"/>
<circle cx="252.1" cy="360.5" r="6"/>
<circle cx="601.9" cy="167.8" r="6"/>
<circle cx="232.1" cy="408.7" r="6"/>
<circle cx="296.4" cy="287.8" r="6"/>
<circle cx="278.5" cy="331.3" r="6"/>
<circle cx="180.1" cy="349.9" r="6"/>
<circle cx="601.7" cy="171.5" r="6"/>
<circle cx="694.1" cy="144.6" r="6"/>
<circle cx="792.8" cy="125.0" r="6"/>
<circle cx="638.6" cy="149.1" r="6"/>
<circle cx="653.2" cy="165.0" r="6"/>
<circle cx="435.2" cy="213.4" r="6"/>
<circle cx="338.8" cy="251.6" r="6"/>
<circle cx="287.3" cy="325.9" r="6"/>
<circle cx="356.1" cy="253.1" r="6"/>
<circle cx="205.8" cy="325.0" r="6"/>
<circle cx="335.4" cy="254.1" r="6"/>
<circle cx="171.3" cy="423.0" r="6"/>
<circle cx="575.8" cy="201.8" r="6"/>
<circle cx="279.4" cy="341.2" r="6"/>
<circle cx="675.5" cy="135.3" r="6"/>
<circle cx="400.8" cy="251.2" r="6"/>
<circle cx="499.7" cy="269.8" r="6"/>
<circle cx="455.4" cy="209.1" r="6"/>
<circle cx="530.3" cy="269.1" r="6"/>
<circle cx="176.3" cy="353.6" r="6"/>
<circle cx="708.2" cy="140.8" r="6"/>
<circle cx="171.7" cy="436.7" r="6"/>
<circle cx="404.9" cy="250.2" r="6"/>
<circle cx="787.7" cy="122.6" r="6"/>
<circle cx="706.7" cy="143.7" r="6"/>
<circle cx="173.6" cy="376.4" r="6"/>
<circle cx="245.6" cy="354.8" r="6"/>
<circle cx="333.0" cy="301.0" r="6"/>
<circle cx="220.6" cy="308.8" r="6"/>
<circle cx="711.2" cy="140.6" r="6"/>
<circle cx="523.4" cy="269.3" r="6"/>
<circle cx="364.1" cy="251.4" r="6"/>
<circle cx="537.0" cy="259.8" r="6"/>
<circle cx="486.5" cy="190.4" r="6"/>
<circle cx="701.3" cy="128.7" r="6"/>
<circle cx="407.9" cy="305.9" r="6"/>
<circle cx="175.2" cy="392.7" r="6"/>
<circle cx="553.3" cy="167.3" r="6"/>
<circle cx="647.2" cy="152.4" r="6"/>
<circle cx="509.2" cy="271.4" r="6"/>
<circle cx="398.6" cy="294.1" r="6"/>
<circle cx="259.0" cy="329.6" r="6"/>
<circle cx="429.8" cy="221.9" r="6"/>
<circle cx="257.0" cy="327.3" r="6"/>
<circle cx="663.1" cy="158.3" r="6"/>
<circle cx="462.6" cy="202.9" r="6"/>
<circle cx="175.9" cy="452.5" r="6"/>
<circle cx="647.0" cy="176.2" r="6"/>
<circle cx="232.2" cy="353.9" r="6"/>
<circle cx="189.6" cy="435.0" r="6"/>
<circle cx="166.8" cy="461.2" r="6"/>
<circle cx="299.3" cy="289.6" r="6"/>
<circle cx="594.9" cy="150.0" r="6"/>
<circle cx="731.9" cy="126.6" r="6"/>
<circle cx="602.0" cy="151.5" r="6"/>
<circle cx="174.6" cy="456.9" r="6"/>
<circle cx="232.3" cy="301.6" r="6"/>
<circle cx="407.6" cy="251.1" r="6"/>
<circle cx="188.2" cy="438.1" r="6"/>
<circle cx="392.0" cy="246.6" r="6"/>
<circle cx="572.1" cy="212.5" r="6"/>
<circle cx="166.8" cy="423.1" r="6"/>
<circle cx="175.4" cy="358.0" r="6"/>
<circle cx="605.4" cy="149.9" r="6"/>
<circle cx="783.1" cy="130.1" r="6"/>
<circle cx="519.2" cy="269.4" r="6"/>
<circle cx="576.5" cy="205.5" r="6"/>
<circle cx="416.3" cy="232.4" r="6"/>
<circle cx="508.2" cy="274.3" r="6"/>
<circle cx="381.9" cy="252.0" r="6"/>
<circle cx="795.9" cy="124.9" r="6"/>
<circle cx="208.0" cy="333.2" r="6"/>
<circle cx="598.8" cy="167.5" r="6"/>
<circle cx="490.5" cy="271.4" r="6"/>
<circle cx="356.8" cy="310.4" r="6"/>
<circle cx="663.5" cy="156.3" r="6"/>
<circle cx="279.1" cy="313.3" r="6"/>
<circle cx="553.6" cy="173.3" r="6"/>
<circle cx="778.7" cy="133.4" r="6"/>
<circle cx="230.5" cy="297.5" r="6"/>
<circle cx="176.5" cy="458.2" r="6"/>
<circle cx="355.1" cy="251.4" r="6"/>
<circle cx="374.5" cy="248.6" r="6"/>
<circle cx="203.8" cy="331.0" r="6"/>
<circle cx="725.3" cy="126.7" r="6"/>
<circle cx="169.6" cy="466.2" r="6"/>
<circle cx="340.6" cy="306.0" r="6"/>
<circle cx="276.0" cy="321.0" r="6"/>
<circle cx="277.9" cy="310.0" r="6"/>
<circle cx="668.9" cy="149.6" r="6"/>
<circle cx="575.2" cy="166.9" r="6"/>
<circle cx="208.2" cy="417.3" r="6"/>
<circle cx="796.4" cy="123.2" r="6"/>
<circle cx="458.8" cy="211.5" r="6"/>
<circle cx="241.2" cy="308.0" r="6"/>
<circle cx="538.4" cy="174.6" r="6"/>
<circle cx="314.9" cy="285.3" r="6"/>
<circle cx="245.8" cy="380.0" r="6"/>
<circle cx="616.7" cy="151.9" r="6"/>
<circle cx="220.7" cy="412.0" r="6"/>
<circle cx="574.8" cy="169.1" r="6"/>
<circle cx="190.8" cy="429.5" r="6"/>
<circle cx="240.6" cy="374.6" r="6"/>
<circle cx="355.8" cy="250.8" r="6"/>
<circle cx="540.9" cy="256.3" r="6"/>
<circle cx="245.4" cy="381.7" r="6"/>
<circle cx="368.7" cy="244.5" r="6"/>
<circle cx="406.0" cy="301.0" r="6"/>
<circle cx="253.7" cy="353.2" r="6"/>
<circle cx="770.6" cy="128.9" r="6"/>
<circle cx="174.0" cy="440.1" r="6"/>
<circle cx="472.2" cy="190.5" r="6"/>
<circle cx="175.3" cy="460.2" r="6"/>
<circle cx="588.3" cy="179.0" r="6"/>
<circle cx="549.7" cy="250.0" r="6"/>
<circle cx="595.7" cy="149.3" r="6"/>
<circle cx="231.3" cy="300.6" r="6"/>
<circle cx="344.9" cy="303.6" r="6"/>
<circle cx="308.8" cy="291.4" r="6"/>
<circle cx="792.7" cy="120.0" r="6"/>
<circle cx="488.2" cy="180.6" r="6"/>
<circle cx="511.5" cy="192.5" r="6"/>
<circle cx="571.0" cy="211.5" r="6"/>
<circle cx="291.5" cy="323.0" r="6"/>
<circle cx="416.2" cy="234.8" r="6"/>
<circle cx="307.5" cy="274.3" r="6"/>
<circle cx="274.6" cy="320.6" r="6"/>
<circle cx="221.3" cy="299.2" r="6"/>
<circle cx="175.5" cy="399.2" r="6"/>
<circle cx="467.4" cy="193.2" r="6"/>
<circle cx="773.6" cy="130.4" r="6"/>
<circle cx="291.4" cy="293.6" r="6"/>
<circle cx="645.7" cy="150.2" r="6"/>
<circle cx="550.8" cy="243.3" r="6"/>
<circle cx="577.5" cy="172.7" r="6"/>
<circle cx="518.4" cy="271.0" r="6"/>
<circle cx="270.3" cy="340.3" r="6"/>
<circle cx="729.3" cy="136.4" r="6"/>
<circle cx="219.5" cy="305.0" r="6"/>
<circle cx="290.5" cy="308.4" r="6"/>
<circle cx="533.2" cy="182.6" r="6"/>
<circle cx="355.7" cy="251.8" r="6"/>
<circle cx="196.9" cy="424.3" r="6"/>
<circle cx="220.5" cy="302.4" r="6"/>
<circle cx="584.8" cy="200.5" r="6"/>
<circle cx="175.9" cy="412.8" r="6"/>
<circle cx="545.6" cy="249.4" r="6"/>
<circle cx="730.4" cy="135.8" r="6"/>
<circle cx="252.7" cy="351.5" r="6"/>
<circle cx="611.0" cy="149.8" r="6"/>
<circle cx="426.8" cy="225.8" r="6"/>
<circle cx="448.5" cy="215.7" r="6"/>
<circle cx="292.6" cy="297.9" r="6"/>
<circle cx="586.4" cy="157.1" r="6"/>
<circle cx="189.0" cy="434.5" r="6"/>
<circle cx="734.9" cy="132.5" r="6"/>
<circle cx="768.0" cy="132.8" r="6"/>
<circle cx="171.6" cy="438.5" r="6"/>
<circle cx="172.7" cy="436.7" r="6"/>
<circle cx="550.5" cy="245.5" r="6"/>
<circle cx="216.1" cy="414.1" r="6"/>
<circle cx="238.2" cy="315.5" r="6"/>
<circle cx="486.1" cy="186.5" r="6"/>
<circle cx="373.6" cy="245.7" r="6"/>
<circle cx="792.7" cy="126.2" r="6"/>
<circle cx="692.8" cy="138.1" r="6"/>
<circle cx="704.9" cy="142.9" r="6"/>
<circle cx="379.8" cy="246.5" r="6"/>
<circle cx="289.9" cy="313.1" r="6"/>
<circle cx="170.2" cy="446.4" r="6"/>
<circle cx="677.9" cy="137.6" r="6"/>
<circle cx="317.8" cy="261.0" r="6"/>
<circle cx="373.8" cy="303.4" r="6"/>
<circle cx="168.5" cy="431.3" r="6"/>
<circle cx="716.7" cy="142.8" r="6"/>
<circle cx="176.4" cy="341.4" r="6"/>
<circle cx="624.8" cy="149.3" r="6"/>
<circle cx="407.4" cy="305.6" r="6"/>
<circle cx="574.5" cy="172.9" r="6"/>
<circle cx="716.0" cy="122.2" r="6"/>
<circle cx="607.8" cy="150.5" r="6"/>
<circle cx="509.4" cy="272.4" r="6"/>
<circle cx="172.4" cy="366.9" r="6"/>
<circle cx="660.1" cy="152.8" r="6"/>
<circle cx="290.5" cy="316.4" r="6"/>
<circle cx="558.3" cy="173.4" r="6"/>
<circle cx="548.9" cy="168.3" r="6"/>
<circle cx="187.1" cy="444.6" r="6"/>
<circle cx="583.4" cy="158.8" r="6"/>
<circle cx="557.6" cy="233.8" r="6"/>
<circle cx="291.8" cy="292.5" r="6"/>
<circle cx="167.1" cy="466.8" r="6"/>
<circle cx="448.9" cy="219.4" r="6"/>
<circle cx="604.1" cy="165.1" r="6"/>
<circle cx="172.8" cy="435.9" r="6"/>
<circle cx="535.4" cy="176.0" r="6"/>
<circle cx="483.1" cy="276.7" r="6"/>
<circle cx="567.6" cy="181.5" r="6"/>
<circle cx="330.3" cy="256.3" r="6"/>
<circle cx="176.3" cy="368.3" r="6"/>
<circle cx="601.6" cy="151.6" r="6"/>
<circle cx="621.2" cy="174.5" r="6"/>
<circle cx="517.9" cy="197.0" r="6"/>
<circle cx="722.7" cy="144.8" r="6"/>
<circle cx="344.1" cy="304.8" r="6"/>
<circle cx="539.9" cy="169.2" r="6"/>
<circle cx="294.5" cy="301.6" r="6"/>
<circle cx="544.6" cy="167.8" r="6"/>
<circle cx="477.3" cy="269.7" r="6"/>
<circle cx="689.0" cy="143.9" r="6"/>
<circle cx="204.5" cy="338.7" r="6"/>
<circle cx="301.2" cy="282.3" r="6"/>
<circle cx="581.7" cy="161.3" r="6"/>
<circle cx="410.3" cy="304.0" r="6"/>
<circle cx="705.3" cy="146.9" r="6"/>
<circle cx="288.0" cy="329.1" r="6"/>
<circle cx="174.7" cy="377.4" r="6"/>
<circle cx="578.3" cy="171.8" r="6"/>
<circle cx="455.0" cy="280.3" r="6"/>
<circle cx="377.7" cy="252.2" r="6"/>
<circle cx="390.5" cy="248.0" r="6"/>
<circle cx="170.7" cy="428.9" r="6"/>
<circle cx="675.3" cy="132.7" r="6"/>
<circle cx="533.8" cy="182.3" r="6"/>
<circle cx="571.1" cy="181.2" r="6"/>
<circle cx="573.2" cy="174.8" r="6"/>
<circle cx="388.1" cy="290.2" r="6"/>
<circle cx="233.9" cy="396.3" r="6"/>
<circle cx="526.5" cy="270.5" r="6"/>
<circle cx="487.3" cy="275.3" r="6"/>
<circle cx="178.4" cy="407.3" r="6"/>
<circle cx="462.0" cy="210.6" r="6"/>
<circle cx="181.9" cy="449.1" r="6"/>
<circle cx="178.0" cy="349.9" r="6"/>
<circle cx="173.5" cy="377.3" r="6"/>
<circle cx="785.0" cy="130.2" r="6"/>
<circle cx="231.6" cy="304.9" r="6"/>
<circle cx="357.6" cy="305.8" r="6"/>
<circle cx="171.6" cy="450.2" r="6"/>
<circle cx="320.4" cy="257.1" r="6"/>
<circle cx="244.8" cy="380.4" r="6"/>
<circle cx="176.4" cy="343.0" r="6"/>
<circle cx="386.8" cy="247.0" r="6"/>
<circle cx="345.0" cy="308.4" r="6"/>
<circle cx="250.5" cy="371.1" r="6"/>
<circle cx="491.5" cy="184.2" r="6"/>
<circle cx="504.3" cy="183.0" r="6"/>
<circle cx="491.7" cy="187.5" r="6"/>
<circle cx="504.7" cy="189.3" r="6"/>
<circle cx="490.8" cy="194.8" r="6"/>
<circle cx="504.2" cy="192.1" r="6"/>
<circle cx="491.7" cy="195.5" r="6"/>
<circle cx="505.0" cy="196.0" r="6"/>
<circle cx="492.4" cy="202.1" r="6"/>
<circle cx="504.7" cy="201.2" r="6"/>
<circle cx="492.8" cy="206.7" r="6"/>
<circle cx="504.4" cy="204.6" r="6"/>
<circle cx="480.5" cy="221.4" r="6"/>
<circle cx="492.9" cy="222.1" r="6"/>
<circle cx="480.6" cy="228.0" r="6"/>
<circle cx="494.1" cy="225.5" r="6"/>
<circle cx="482.1" cy="228.9" r="6"/>
<circle cx="494.8" cy="230.1" r="6"/>
<circle cx="481.4" cy="233.8" r="6"/>
<circle cx="495.3" cy="233.0" r="6"/>
<circle cx="517.2" cy="238.8" r="6"/>
<circle cx="530.3" cy="237.5" r="6"/>
<circle cx="516.6" cy="243.4" r="6"/>
<circle cx="529.0" cy="243.6" r="6"/>
<circle cx="516.7" cy="246.1" r="6"/>
<circle cx="530.0" cy="245.3" r="6"/>
<circle cx="517.3" cy="249.3" r="6"/>
<circle cx="530.0" cy="250.6" r="6"/>
<circle cx="516.9" cy="253.8" r="6"/>
<circle cx="528.2" cy="254.6" r="6"/>
<circle cx="515.9" cy="260.5" r="6"/>
<circle cx="528.3" cy="258.9" r="6"/>
<circle cx="517.2" cy="264.1" r="6"/>
<circle cx="528.0" cy="262.9" r="6"/>
<circle cx="537.8" cy="234.6" r="6"/>
<circle cx="540.8" cy="237.4" r="6"/>
<circle cx="531.1" cy="247.8" r="6"/>
<circle cx="542.1" cy="240.3" r="6"/>
<circle cx="550.4" cy="232.0" r="6"/>
<circle cx="542.8" cy="221.0" r="6"/>
<circle cx="553.7" cy="228.1" r="6"/>
<circle cx="545.9" cy="219.5" r="6"/>
<circle cx="554.8" cy="227.1" r="6"/>
<circle cx="547.4" cy="217.3" r="6"/>
<circle cx="213.5" cy="318.6" r="6"/>
<circle cx="224.7" cy="316.4" r="6"/>
<circle cx="214.6" cy="322.4" r="6"/>
<circle cx="225.7" cy="318.0" r="6"/>
<circle cx="214.6" cy="323.7" r="6"/>
<circle cx="225.7" cy="318.0" r="6"/>
<circle cx="237.8" cy="323.6" r="6"/>
<circle cx="249.6" cy="321.9" r="6"/>
<circle cx="238.7" cy="325.4" r="6"/>
<circle cx="249.9" cy="324.4" r="6"/>
<circle cx="238.7" cy="327.0" r="6"/>
<circle cx="250.7" cy="326.1" r="6"/>
<circle cx="185.6" cy="346.3" r="6"/>
<circle cx="195.0" cy="336.2" r="6"/>
<circle cx="189.3" cy="349.0" r="6"/>
<circle cx="198.7" cy="337.8" r="6"/>
<circle cx="192.0" cy="350.2" r="6"/>
<circle cx="199.9" cy="339.5" r="6"/>
<circle cx="193.2" cy="352.1" r="6"/>
<circle cx="202.1" cy="341.5" r="6"/>
<circle cx="261.6" cy="355.0" r="6"/>
<circle cx="270.7" cy="346.1" r="6"/>
<circle cx="264.9" cy="356.0" r="6"/>
<circle cx="271.0" cy="347.4" r="6"/>
<circle cx="264.9" cy="356.9" r="6"/>
<circle cx="271.2" cy="347.9" r="6"/>
<circle cx="235.0" cy="369.8" r="6"/>
<circle cx="239.3" cy="357.7" r="6"/>
<circle cx="237.8" cy="371.0" r="6"/>
<circle cx="243.1" cy="359.8" r="6"/>
<circle cx="238.6" cy="372.7" r="6"/>
<circle cx="244.8" cy="361.0" r="6"/>
<circle cx="236.9" cy="391.3" r="6"/>
<circle cx="230.1" cy="381.2" r="6"/>
<circle cx="242.1" cy="389.7" r="6"/>
<circle cx="233.1" cy="378.2" r="6"/>
<circle cx="243.1" cy="387.6" r="6"/>
<circle cx="237.2" cy="378.0" r="6"/>
<circle cx="484.5" cy="263.9" r="6"/>
<circle cx="490.3" cy="250.4" r="6"/>
<circle cx="489.7" cy="264.1" r="6"/>
<circle cx="493.1" cy="253.3" r="6"/>
<circle cx="489.6" cy="266.3" r="6"/>
<circle cx="497.3" cy="253.7" r="6"/>
<circle cx="311.0" cy="296.6" r="6"/>
<circle cx="324.5" cy="292.7" r="6"/>
<circle cx="311.0" cy="299.3" r="6"/>
<circle cx="324.4" cy="296.2" r="6"/>
<circle cx="313.1" cy="301.5" r="6"/>
<circle cx="325.7" cy="299.4" r="6"/>
<circle cx="331.0" cy="297.5" r="6"/>
<circle cx="339.2" cy="287.5" r="6"/>
<circle cx="332.6" cy="300.5" r="6"/>
<circle cx="341.4" cy="288.3" r="6"/>
<circle cx="333.4" cy="299.1" r="6"/>
<circle cx="341.8" cy="290.2" r="6"/>
<circle cx="356.8" cy="299.1" r="6"/>
<circle cx="370.5" cy="293.8" r="6"/>
<circle cx="358.2" cy="301.4" r="6"/>
<circle cx="371.3" cy="298.1" r="6"/>
<circle cx="358.2" cy="302.9" r="6"/>
<circle cx="371.6" cy="298.4" r="6"/>
<circle cx="372.5" cy="292.6" r="6"/>
<circle cx="386.5" cy="289.7" r="6"/>
<circle cx="373.6" cy="294.8" r="6"/>
<circle cx="387.3" cy="291.8" r="6"/>
<circle cx="374.5" cy="298.1" r="6"/>
<circle cx="387.8" cy="294.4" r="6"/>
<circle cx="385.2" cy="305.4" r="6"/>
<circle cx="398.3" cy="300.4" r="6"/>
<circle cx="386.7" cy="307.8" r="6"/>
<circle cx="399.9" cy="304.2" r="6"/>
<circle cx="387.1" cy="310.8" r="6"/>
<circle cx="399.5" cy="307.4" r="6"/>
<circle cx="413.9" cy="278.2" r="6"/>
<circle cx="410.9" cy="265.1" r="6"/>
<circle cx="413.9" cy="277.3" r="6"/>
<circle cx="410.0" cy="264.2" r="6"/>
<circle cx="413.3" cy="277.6" r="6"/>
<circle cx="410.2" cy="264.0" r="6"/>
<circle cx="419.9" cy="299.8" r="6"/>
<circle cx="426.0" cy="286.9" r="6"/>
<circle cx="424.0" cy="302.6" r="6"/>
<circle cx="430.2" cy="288.2" r="6"/>
<circle cx="428.2" cy="302.5" r="6"/>
<circle cx="433.2" cy="288.7" r="6"/>
</g>
<path d="M124.50,474.13 C134.46,449.30 164.33,358.24 184.25,325.13 C204.17,292.02 224.08,288.71 244.00,275.47 C263.92,262.22 283.83,253.94 303.75,245.67 C323.67,237.39 343.58,234.08 363.50,225.80 C383.42,217.52 403.33,205.93 423.25,196.00 C443.17,186.07 463.08,174.48 483.00,166.20 C502.92,157.92 522.83,150.80 542.75,146.33 C562.67,141.86 582.58,142.19 602.50,139.38 C622.42,136.57 642.33,133.92 662.25,129.45 C682.17,124.98 702.08,116.20 722.00,112.56 C741.92,108.92 761.83,110.41 781.75,107.59 C801.67,104.78 821.58,99.48 841.50,95.67 C861.42,91.87 887.31,87.23 901.25,84.75 C915.19,82.26 917.18,82.10 925.15,80.77 C933.12,79.45 945.07,77.46 949.05,76.80" fill="none" stroke="#a5a5a5" stroke-width="3" stroke-linecap="round" stroke-linejoin="round"/>
<g fill="#a5a5a5">
<circle cx="124.50" cy="474.13" r="6"/>
<circle cx="184.25" cy="325.13" r="6"/>
<circle cx="244.00" cy="275.47" r="6"/>
<circle cx="303.75" cy="245.67" r="6"/>
<circle cx="363.50" cy="225.80" r="6"/>
<circle cx="423.25" cy="196.00" r="6"/>
<circle cx="483.00" cy="166.20" r="6"/>
<circle cx="542.75" cy="146.33" r="6"/>
<circle cx="602.50" cy="139.38" r="6"/>
<circle cx="662.25" cy="129.45" r="6"/>
<circle cx="722.00" cy="112.56" r="6"/>
<circle cx="781.75" cy="107.59" r="6"/>
<circle cx="841.50" cy="95.67" r="6"/>
<circle cx="901.25" cy="84.75" r="6"/>
<circle cx="925.15" cy="80.77" r="6"/>
<circle cx="949.05" cy="76.80" r="6"/>
</g>
<circle cx="884.1" cy="364.1" r="6" fill="#ffc000"/>
<line x1="864.5" y1="399.2" x2="904.5" y2="399.2" stroke="#a5a5a5" stroke-width="3" stroke-linecap="round"/>
<circle cx="884.1" cy="399.2" r="6" fill="#a5a5a5"/>
<text x="909.4" y="369.9" font-size="16.6px" textLength="121" lengthAdjust="spacingAndGlyphs">less than 60 kpa</text>
<text x="909.4" y="404.6" font-size="16.6px" textLength="103.5" lengthAdjust="spacingAndGlyphs">knock curve 2</text>
</svg></body></html>
